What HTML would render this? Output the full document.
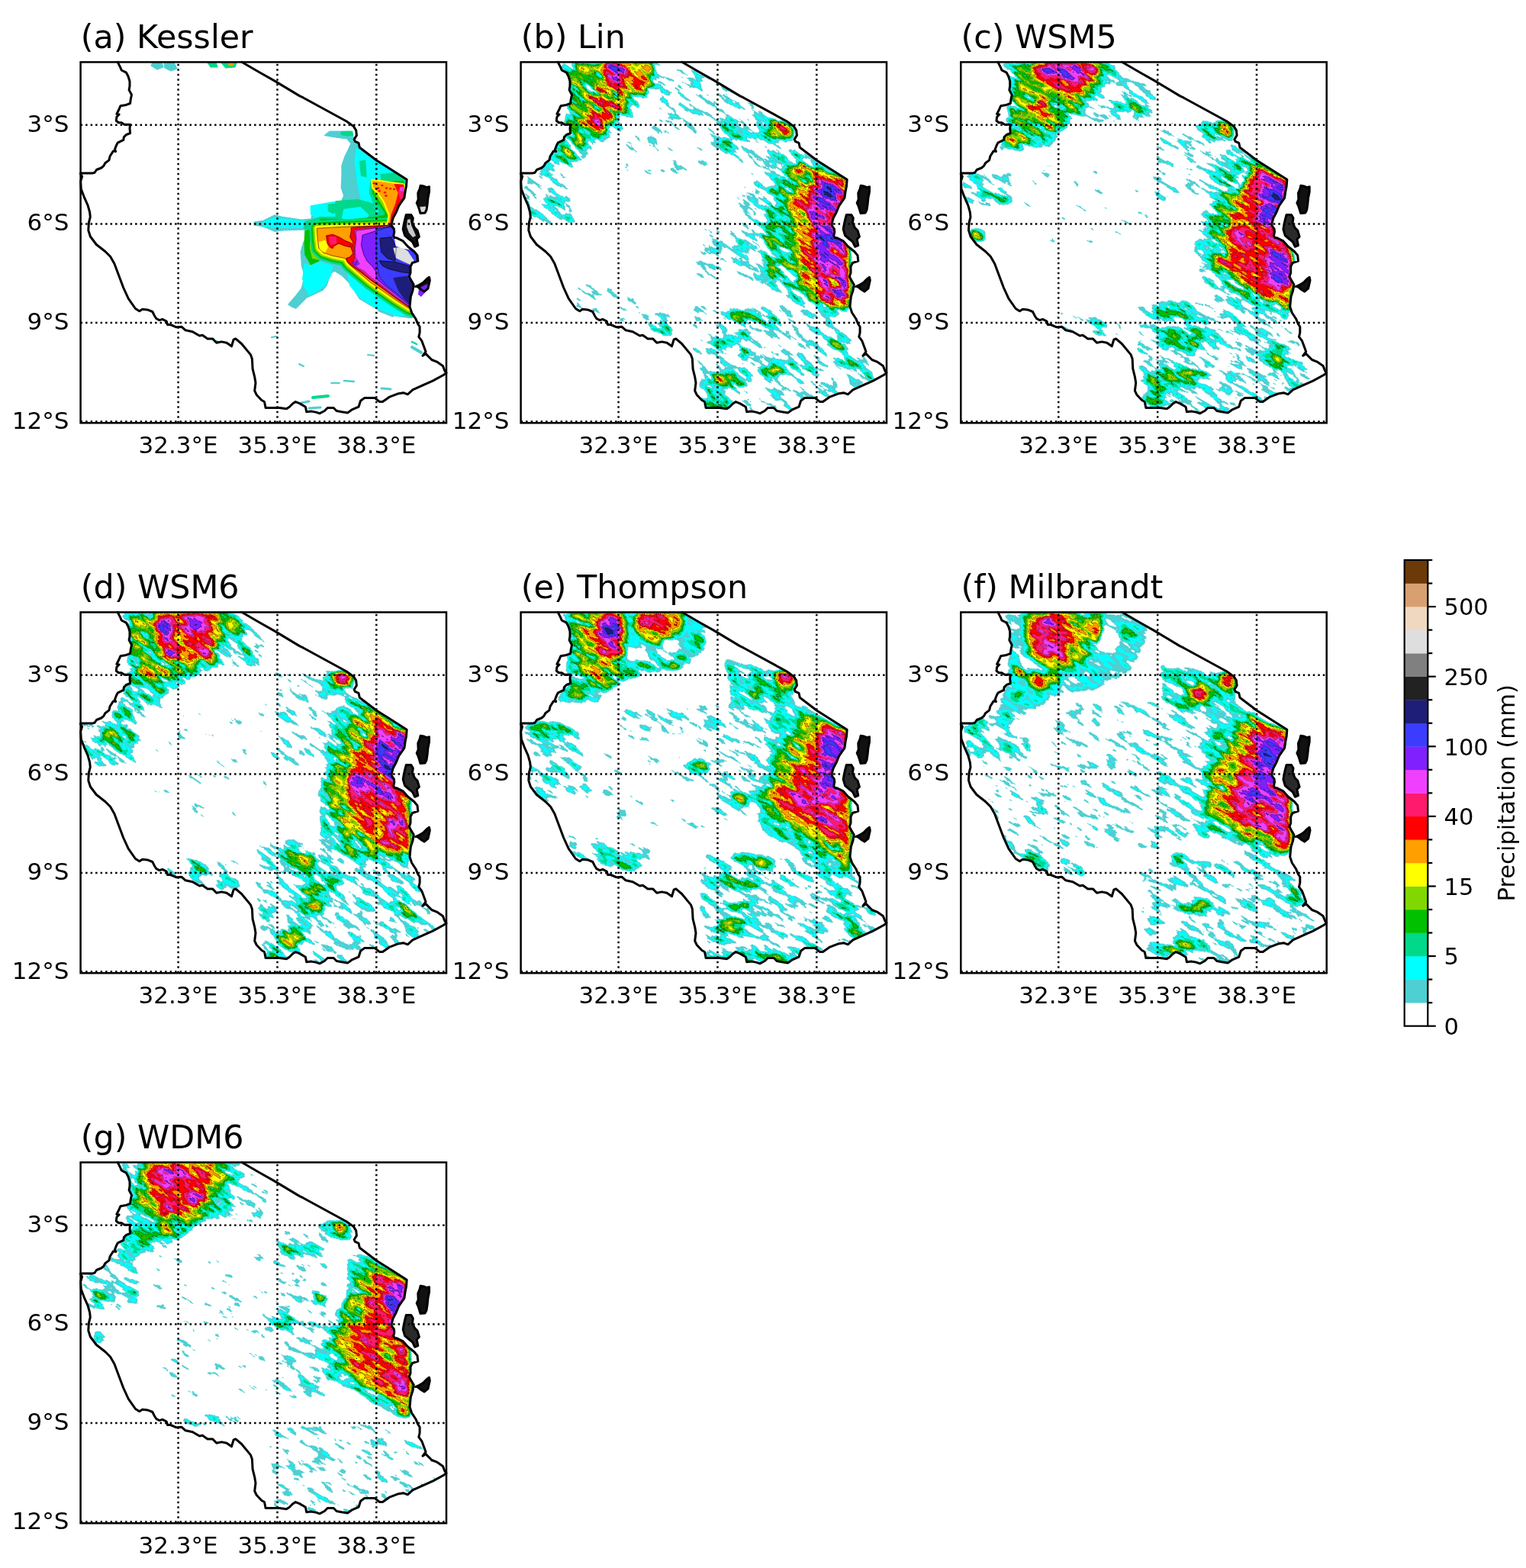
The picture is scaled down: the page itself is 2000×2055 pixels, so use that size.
<!DOCTYPE html><html><head><meta charset="utf-8"><title>Precipitation comparison</title>
<style>html,body{margin:0;padding:0;background:#fff;width:2000px;height:2055px;overflow:hidden}svg{display:block}</style></head><body>
<svg xmlns="http://www.w3.org/2000/svg" width="2000" height="2055" viewBox="0 0 2000 2055" font-family="DejaVu Sans, Liberation Sans, sans-serif">
<defs>
<clipPath id="land" clipPathUnits="userSpaceOnUse"><polygon points="154.2,81.3 158.0,88.9 159.2,92.0 165.5,95.2 168.1,100.2 170.0,106.5 170.0,112.8 169.1,117.9 172.5,124.2 171.2,130.5 170.6,135.5 165.5,137.4 158.0,138.7 155.5,144.3 152.9,149.4 156.1,150.0 152.9,153.2 152.3,158.2 155.5,160.7 159.2,160.7 163.0,163.2 170.6,163.2 170.0,168.3 170.6,174.6 165.5,176.5 162.4,179.6 161.8,183.4 154.2,187.2 152.3,191.0 150.4,196.0 151.7,198.5 148.5,197.9 144.1,204.8 142.9,209.9 137.8,213.7 135.9,217.4 132.8,220.0 126.5,222.5 124.0,226.3 121.4,226.9 105.6,226.9 105.6,228.0 107.6,231.3 105.7,237.6 106.3,247.7 110.1,257.8 115.1,269.1 117.6,278.0 118.3,284.3 116.4,291.8 115.8,301.9 118.4,310.0 126.3,320.5 138.1,329.7 144.6,336.3 149.9,345.5 161.7,377.0 168.3,391.4 177.5,404.5 182.7,407.8 186.7,405.2 193.2,405.9 199.8,408.5 202.4,413.7 205.0,417.7 209.0,419.6 212.9,418.3 218.2,421.0 219.5,425.5 223.4,425.5 231.3,428.8 237.9,428.2 243.1,432.8 252.3,434.7 261.5,440.0 265.4,439.3 272.0,443.9 278.6,443.9 283.8,449.2 290.4,447.9 297.0,449.2 303.5,453.8 306.1,445.2 308.8,443.9 316.6,450.5 328.5,464.9 330.4,470.2 331.1,483.3 333.7,493.8 335.0,501.7 333.7,512.2 336.3,517.5 342.9,524.5 346.5,526.5 347.9,533.2 348.0,534.5 357.1,534.5 366.3,534.5 375.5,535.8 379.4,533.2 383.3,529.3 387.3,526.6 392.5,528.6 400.4,533.2 401.7,539.8 408.3,539.1 414.8,540.4 418.8,541.8 425.3,538.5 429.3,534.5 437.2,534.5 441.1,538.5 447.7,539.8 455.5,541.1 460.8,537.2 470.0,533.2 472.6,525.3 477.9,521.4 491.0,521.4 497.6,526.6 501.5,526.6 510.7,520.1 521.2,516.1 529.1,514.8 534.3,516.8 540.9,510.9 555.3,504.3 567.2,499.1 581.6,491.2 585.0,488.6 582.9,486.0 580.3,479.4 572.4,474.1 565.8,471.5 558.0,463.6 554.0,466.2 558.0,461.0 556.6,457.1 552.7,446.6 548.8,441.3 550.1,436.0 550.1,428.2 547.5,424.2 544.8,417.7 539.6,409.8 537.0,401.9 538.3,388.8 540.9,380.9 542.2,373.0 538.8,367.4 536.3,362.5 538.0,357.6 538.0,349.4 540.4,344.5 547.8,342.1 547.0,334.7 542.9,329.8 534.7,323.3 528.2,315.9 520.0,311.8 517.3,311.4 515.7,309.3 516.8,304.0 516.3,299.8 513.6,296.2 513.1,293.5 515.2,285.7 519.4,277.8 522.6,269.9 526.2,264.6 529.9,259.4 531.0,251.5 532.5,243.6 533.1,235.8 533.1,235.2 493.6,210.2 471.3,193.2 470.0,187.3 465.4,185.3 464.1,182.7 467.4,177.4 466.7,170.9 463.4,165.6 454.2,159.0 397.8,128.2 392.5,125.6 359.7,105.9 340.0,94.7 316.8,81.3"/><polygon points="551.1,243.2 555.2,244.0 559.2,245.6 562.5,244.8 562.5,251.3 560.9,259.5 560.1,267.7 559.0,275.0 557.0,279.0 551.0,279.5 549.4,274.0 547.8,269.3 546.2,266.1 548.2,261.2 547.8,253.0 550.2,247.3"/><polygon points="532.3,281.6 538.8,281.6 541.3,285.7 540.4,292.2 543.7,298.8 547.0,302.0 549.4,310.2 546.2,313.5 547.8,321.7 543.7,323.3 540.4,316.7 536.3,313.5 530.6,308.6 528.2,300.4 529.0,295.5 530.6,288.1"/><polygon points="562.5,363.3 563.3,367.4 560.9,378.1 556.0,382.1 551.1,378.9 547.0,375.6 544.5,375.6 548.6,374.0 555.2,369.9 559.2,365.8"/></clipPath>
<g id="outline" fill="none" stroke="#000" stroke-width="3.0" stroke-linejoin="round" stroke-linecap="round"><polyline points="154.2,81.3 158.0,88.9 159.2,92.0 165.5,95.2 168.1,100.2 170.0,106.5 170.0,112.8 169.1,117.9 172.5,124.2 171.2,130.5 170.6,135.5 165.5,137.4 158.0,138.7 155.5,144.3 152.9,149.4 156.1,150.0 152.9,153.2 152.3,158.2 155.5,160.7 159.2,160.7 163.0,163.2 170.6,163.2 170.0,168.3 170.6,174.6 165.5,176.5 162.4,179.6 161.8,183.4 154.2,187.2 152.3,191.0 150.4,196.0 151.7,198.5 148.5,197.9 144.1,204.8 142.9,209.9 137.8,213.7 135.9,217.4 132.8,220.0 126.5,222.5 124.0,226.3 121.4,226.9 105.6,226.9"/><polyline points="105.6,228.0 107.6,231.3 105.7,237.6 106.3,247.7 110.1,257.8 115.1,269.1 117.6,278.0 118.3,284.3 116.4,291.8 115.8,301.9 118.4,310.0 126.3,320.5 138.1,329.7 144.6,336.3 149.9,345.5 161.7,377.0 168.3,391.4 177.5,404.5 182.7,407.8 186.7,405.2 193.2,405.9 199.8,408.5 202.4,413.7 205.0,417.7 209.0,419.6 212.9,418.3 218.2,421.0 219.5,425.5 223.4,425.5 231.3,428.8 237.9,428.2 243.1,432.8 252.3,434.7 261.5,440.0 265.4,439.3 272.0,443.9 278.6,443.9 283.8,449.2 290.4,447.9 297.0,449.2 303.5,453.8 306.1,445.2 308.8,443.9 316.6,450.5 328.5,464.9 330.4,470.2 331.1,483.3 333.7,493.8 335.0,501.7 333.7,512.2 336.3,517.5 342.9,524.5 346.5,526.5 347.9,533.2 348.0,534.5 357.1,534.5 366.3,534.5 375.5,535.8 379.4,533.2 383.3,529.3 387.3,526.6 392.5,528.6 400.4,533.2 401.7,539.8 408.3,539.1 414.8,540.4 418.8,541.8 425.3,538.5 429.3,534.5 437.2,534.5 441.1,538.5 447.7,539.8 455.5,541.1 460.8,537.2 470.0,533.2 472.6,525.3 477.9,521.4 491.0,521.4 497.6,526.6 501.5,526.6 510.7,520.1 521.2,516.1 529.1,514.8 534.3,516.8 540.9,510.9 555.3,504.3 567.2,499.1 581.6,491.2 585.0,488.6 582.9,486.0 580.3,479.4 572.4,474.1 565.8,471.5 558.0,463.6 554.0,466.2 558.0,461.0 556.6,457.1 552.7,446.6 548.8,441.3 550.1,436.0 550.1,428.2 547.5,424.2 544.8,417.7 539.6,409.8 537.0,401.9 538.3,388.8 540.9,380.9 542.2,373.0 538.8,367.4 536.3,362.5 538.0,357.6 538.0,349.4 540.4,344.5 547.8,342.1 547.0,334.7 542.9,329.8 534.7,323.3 528.2,315.9 520.0,311.8 517.3,311.4 515.7,309.3 516.8,304.0 516.3,299.8 513.6,296.2 513.1,293.5 515.2,285.7 519.4,277.8 522.6,269.9 526.2,264.6 529.9,259.4 531.0,251.5 532.5,243.6 533.1,235.8 533.1,235.2 493.6,210.2 471.3,193.2 470.0,187.3 465.4,185.3 464.1,182.7 467.4,177.4 466.7,170.9 463.4,165.6 454.2,159.0 397.8,128.2 392.5,125.6 359.7,105.9 340.0,94.7 316.8,81.3"/><polygon points="551.1,243.2 555.2,244.0 559.2,245.6 562.5,244.8 562.5,251.3 560.9,259.5 560.1,267.7 559.0,275.0 557.0,279.0 551.0,279.5 549.4,274.0 547.8,269.3 546.2,266.1 548.2,261.2 547.8,253.0 550.2,247.3"/><polygon points="532.3,281.6 538.8,281.6 541.3,285.7 540.4,292.2 543.7,298.8 547.0,302.0 549.4,310.2 546.2,313.5 547.8,321.7 543.7,323.3 540.4,316.7 536.3,313.5 530.6,308.6 528.2,300.4 529.0,295.5 530.6,288.1"/><polygon points="562.5,363.3 563.3,367.4 560.9,378.1 556.0,382.1 551.1,378.9 547.0,375.6 544.5,375.6 548.6,374.0 555.2,369.9 559.2,365.8"/></g>
<g id="grid" stroke="#000" stroke-width="2.5" stroke-dasharray="2.5 4.0"><line x1="233.6" y1="554.3" x2="233.6" y2="81.4"/><line x1="363.5" y1="554.3" x2="363.5" y2="81.4"/><line x1="493.3" y1="554.3" x2="493.3" y2="81.4"/><line x1="105.6" y1="163.8" x2="585.0" y2="163.8"/><line x1="105.6" y1="293.4" x2="585.0" y2="293.4"/><line x1="105.6" y1="422.9" x2="585.0" y2="422.9"/><line x1="105.6" y1="552.6" x2="585.0" y2="552.6"/></g>
</defs>
<g transform="translate(0,0)">
<g clip-path="url(#land)"><polygon points="425.3,177.4 431.9,172.2 458.2,172.2 463.4,180.0 470.0,187.0 500.0,205.0 540.0,232.0 545.0,300.0 560.0,350.0 545.0,415.0 537.9,416.7 519.0,414.2 496.3,406.6 483.7,399.1 471.1,391.5 458.4,371.4 448.4,361.3 438.3,355.0 433.2,358.7 428.2,373.9 423.2,380.2 401.7,390.3 392.9,399.1 387.9,404.1 381.6,401.6 377.8,399.1 386.6,389.0 395.4,377.7 399.2,361.3 395.4,348.7 394.2,329.8 397.9,317.1 408.0,308.3 397.9,300.8 370.2,302.0 360.1,303.3 345.0,297.0 333.0,295.0 333.0,291.0 345.0,289.4 360.1,281.9 370.2,284.4 395.4,288.2 408.0,286.9 409.3,276.8 415.6,270.5 433.2,265.5 447.0,264.5 450.7,256.6 447.2,245.9 448.0,230.0 447.9,217.3 452.0,205.0 457.2,194.4 460.0,188.0 455.0,182.0 440.0,180.0" fill="#4ecfd2" stroke="#4ecfd2" stroke-width="1.2" stroke-linejoin="round"/>
<polygon points="467.2,194.4 490.1,210.1 518.7,224.4 511.6,235.2 493.7,237.3 491.5,260.2 486.5,281.7 474.4,267.4 468.6,238.7 465.1,210.1" fill="#00ffff" stroke="#00ffff" stroke-width="1.2" stroke-linejoin="round"/>
<polygon points="345.0,290.7 360.1,285.6 382.8,288.2 408.0,290.7 410.5,297.0 382.8,298.2 360.1,298.2 345.0,297.0" fill="#00ffff" stroke="#00ffff" stroke-width="1.2" stroke-linejoin="round"/>
<polygon points="407.3,269.8 435.9,264.9 468.6,263.3 489.1,260.0 505.4,269.8 505.4,286.2 476.8,287.0 444.1,284.5 415.4,286.2 407.3,280.4" fill="#00ffff" stroke="#00ffff" stroke-width="1.2" stroke-linejoin="round"/>
<polygon points="397.9,351.2 420.6,343.6 435.8,348.7 433.2,361.3 425.7,373.9 415.6,381.4 405.5,386.5 397.9,373.9" fill="#00ffff" stroke="#00ffff" stroke-width="1.2" stroke-linejoin="round"/>
<polygon points="399.1,345.9 411.4,350.0 419.5,362.2 415.4,370.4 403.2,374.5 396.6,366.3" fill="#00ffff" stroke="#00ffff" stroke-width="1.2" stroke-linejoin="round"/>
<polygon points="455.9,358.7 477.4,377.7 502.6,392.8 527.8,405.4 534.1,411.7 521.5,414.2 496.3,406.6 471.1,389.0 458.5,373.9" fill="#00ffff" stroke="#00ffff" stroke-width="1.2" stroke-linejoin="round"/>
<polygon points="447.2,172.9 461.5,172.2 462.9,177.2 454.3,177.9 447.2,176.5" fill="#00d98a" stroke="#00d98a" stroke-width="1.2" stroke-linejoin="round"/>
<polygon points="430.2,268.2 452.3,265.7 453.9,274.7 435.9,279.6 430.2,276.4" fill="#00d98a" stroke="#00d98a" stroke-width="1.2" stroke-linejoin="round"/>
<polygon points="467.0,269.8 476.8,267.4 485.0,282.9 472.7,288.6" fill="#00d98a" stroke="#00d98a" stroke-width="1.2" stroke-linejoin="round"/>
<polygon points="471.5,211.5 478.7,210.1 480.1,231.6 473.6,230.2" fill="#00d98a" stroke="#00d98a" stroke-width="1.2" stroke-linejoin="round"/>
<polygon points="498.7,228.7 518.7,226.6 530.2,235.9 511.6,240.2 500.8,238.7" fill="#00d98a" stroke="#00d98a" stroke-width="1.2" stroke-linejoin="round"/>
<polygon points="399.9,291.1 419.5,284.5 452.3,284.5 476.8,286.2 489.1,280.4 509.5,274.7 514.4,295.2 476.8,298.4 435.9,300.9 407.3,302.5 398.3,299.3" fill="#00d98a" stroke="#00d98a" stroke-width="1.2" stroke-linejoin="round"/>
<polygon points="485.8,237.3 530.2,235.2 529.5,300.0 508.0,300.0 500.8,281.7 490.1,267.4 484.4,253.1" fill="#00d98a" stroke="#00d98a" stroke-width="1.2" stroke-linejoin="round"/>
<polygon points="440.0,263.8 468.6,261.6 490.1,267.4 497.3,300.0 440.0,300.0" fill="#00d98a" stroke="#00d98a" stroke-width="1.2" stroke-linejoin="round"/>
<polygon points="450.7,274.5 472.2,271.7 482.9,281.7 475.8,292.4 457.9,292.4 448.6,285.3" fill="#00ffff" stroke="#00ffff" stroke-width="1.2" stroke-linejoin="round"/>
<polygon points="419.5,287.0 460.4,287.8 493.1,284.5 511.1,280.4 512.8,295.2 468.6,298.4 423.6,299.3" fill="#00c000" stroke="#00c000" stroke-width="1.2" stroke-linejoin="round"/>
<polygon points="399.9,302.5 415.4,299.3 419.5,309.1 417.9,341.8 407.3,346.7 399.9,333.6 399.1,317.3" fill="#00c000" stroke="#00c000" stroke-width="1.2" stroke-linejoin="round"/>
<polygon points="487.2,238.7 528.8,237.3 528.0,300.0 510.2,300.0 504.4,278.1 494.4,263.8 488.7,253.1" fill="#00c000" stroke="#00c000" stroke-width="1.2" stroke-linejoin="round"/>
<polygon points="407.3,305.8 417.9,300.9 421.2,317.3 419.5,340.2 409.7,338.5 406.5,325.4" fill="#80d800" stroke="#80d800" stroke-width="1.2" stroke-linejoin="round"/>
<polygon points="435.9,294.4 509.5,291.1 511.1,296.0 444.1,298.4" fill="#80d800" stroke="#80d800" stroke-width="1.2" stroke-linejoin="round"/>
<polygon points="488.7,238.0 528.8,241.6 528.0,296.0 513.0,298.9 508.7,281.7 503.0,271.7 491.5,253.1" fill="#80d800" stroke="#80d800" stroke-width="1.2" stroke-linejoin="round"/>
<polygon points="414.9,289.8 411.3,290.7 408.4,292.9 406.5,296.1 406.0,299.8 406.8,313.7 406.8,314.4 408.5,326.7 409.4,329.6 411.2,332.1 416.9,337.9 420.6,340.2 432.9,344.3 434.0,344.6 446.5,347.1 449.3,351.1 451.0,353.1 462.4,362.9 462.5,362.9 478.8,376.8 479.5,377.4 495.9,388.8 512.2,400.3 512.6,400.5 530.6,412.0 532.9,413.0 543.5,416.3 547.0,416.7 550.4,415.8 553.3,413.7 555.1,410.7 555.8,407.2 555.8,333.6 554.8,329.4 542.5,304.8 540.4,302.0 537.3,300.1 522.2,294.7 519.0,289.9 516.8,287.5 513.9,286.1 510.7,285.7 492.8,286.5 464.2,287.3 464.1,287.3 443.7,288.1 443.5,288.1 414.9,289.8" fill="#00d98a" stroke="#00d98a" stroke-width="1.2" stroke-linejoin="round"/>
<polygon points="415.0,292.3 412.4,293.0 410.2,294.6 408.8,297.0 408.5,299.7 409.3,313.6 409.3,314.1 411.0,326.4 411.6,328.5 413.0,330.4 418.7,336.1 421.4,337.8 433.7,341.9 434.5,342.1 448.0,344.8 451.3,349.8 452.6,351.2 464.1,361.0 464.1,361.0 480.4,374.9 481.0,375.3 497.3,386.8 513.7,398.2 513.9,398.4 531.9,409.8 533.6,410.6 544.2,413.9 546.8,414.2 549.3,413.5 551.4,412.0 552.8,409.8 553.3,407.2 553.3,333.6 552.6,330.5 540.3,305.9 538.7,303.8 536.4,302.5 520.6,296.7 517.0,291.3 515.3,289.6 513.2,288.5 510.8,288.2 492.9,289.0 464.3,289.8 464.2,289.8 443.8,290.6 443.7,290.6 415.0,292.3" fill="#00c000" stroke="#00c000" stroke-width="1.2" stroke-linejoin="round"/>
<polygon points="415.2,294.5 413.4,294.9 411.9,296.1 410.9,297.7 410.7,299.5 411.5,313.4 411.5,313.8 413.1,326.1 413.6,327.6 414.5,328.8 420.2,334.5 422.1,335.7 434.4,339.8 435.0,340.0 449.4,342.8 453.2,348.5 454.0,349.5 465.5,359.3 465.5,359.3 481.9,373.3 482.2,373.5 498.6,385.0 514.9,396.4 515.1,396.5 533.1,408.0 534.3,408.5 544.9,411.8 546.7,412.0 548.4,411.5 549.8,410.5 550.8,409.0 551.1,407.2 551.1,333.6 550.6,331.5 538.3,306.9 537.2,305.5 535.7,304.6 519.2,298.6 515.1,292.5 514.0,291.3 512.5,290.6 510.9,290.4 493.0,291.2 464.4,292.0 464.3,292.0 443.9,292.8 443.8,292.8 415.2,294.5" fill="#80d800" stroke="#80d800" stroke-width="1.2" stroke-linejoin="round"/>
<polygon points="415.3,296.7 414.3,296.9 413.5,297.5 413.0,298.4 412.9,299.4 413.7,313.3 413.7,313.5 415.3,325.8 415.6,326.6 416.1,327.3 421.8,333.0 422.8,333.6 435.1,337.7 435.4,337.8 450.7,340.9 455.0,347.3 455.5,347.8 466.9,357.7 466.9,357.7 483.3,371.6 483.5,371.7 499.8,383.2 516.2,394.6 516.3,394.7 534.3,406.1 534.9,406.4 545.5,409.7 546.5,409.8 547.4,409.6 548.2,409.0 548.7,408.2 548.9,407.2 548.9,333.6 548.6,332.4 536.4,307.9 535.8,307.1 534.9,306.6 517.7,300.4 513.3,293.7 512.7,293.1 511.9,292.7 511.0,292.6 493.0,293.4 464.4,294.2 464.4,294.2 444.0,295.0 443.9,295.0 415.3,296.7" fill="#ffff00" stroke="#ffff00" stroke-width="1.2" stroke-linejoin="round"/>
<polygon points="415.4,299.3 416.3,313.2 417.9,325.4 423.6,331.2 435.9,335.2 452.3,338.5 457.2,345.9 468.6,355.7 485.0,369.6 501.3,381.0 517.7,392.5 535.7,403.9 546.3,407.2 546.3,333.6 534.0,309.1 516.0,302.5 511.1,295.2 493.1,296.0 464.5,296.8 444.1,297.6 415.4,299.3" fill="#ff9f00" stroke="#ff9f00" stroke-width="1.2" stroke-linejoin="round"/>
<polygon points="417.9,317.3 426.1,315.6 429.4,323.8 426.1,330.3 419.5,328.7" fill="#ffff00" stroke="#ffff00" stroke-width="1.2" stroke-linejoin="round"/>
<polygon points="489.0,235.1 488.2,235.2 487.4,235.5 486.8,236.1 486.5,236.8 486.5,237.7 487.9,246.3 488.2,246.9 488.6,247.5 495.6,254.5 502.5,264.8 509.3,281.9 505.8,299.6 505.9,300.6 506.3,301.4 507.1,302.0 508.0,302.2 511.6,302.2 512.5,302.0 513.3,301.4 513.7,300.5 517.2,284.1 524.0,275.9 524.2,275.7 530.6,264.9 531.0,263.7 530.2,243.0 530.1,242.2 529.7,241.6 529.1,241.1 528.3,240.9 522.6,240.1 489.0,235.1" fill="#ffff00" stroke="#ffff00" stroke-width="1.2" stroke-linejoin="round"/>
<polygon points="488.7,237.3 490.1,245.9 497.3,253.1 504.4,263.8 511.6,281.7 508.0,300.0 511.6,300.0 515.2,283.1 522.3,274.5 528.8,263.8 528.0,243.0 522.3,242.3 488.7,237.3" fill="#ff9f00" stroke="#ff9f00" stroke-width="1.2" stroke-linejoin="round"/>
<polygon points="517.3,241.6 528.8,242.3 529.1,263.8 522.3,276.0 515.9,286.0 512.3,300.0 510.9,300.0 513.0,281.7 518.7,267.4 522.3,253.1" fill="#ff0000" stroke="#ff0000" stroke-width="1.2" stroke-linejoin="round"/>
<polygon points="522.3,249.5 528.0,245.9 528.8,261.6 524.5,260.2" fill="#ff1a6e" stroke="#ff1a6e" stroke-width="1.2" stroke-linejoin="round"/>
<polygon points="524.5,245.9 528.0,245.2 527.7,250.2 524.8,249.5" fill="#f040ff" stroke="#f040ff" stroke-width="1.2" stroke-linejoin="round"/>
<ellipse cx="490.1" cy="240.2" rx="1.6" ry="1.3" transform="rotate(0 490.1 240.2)" fill="#ff0000"/>
<ellipse cx="495.8" cy="246.6" rx="1.6" ry="1.3" transform="rotate(0 495.8 246.6)" fill="#ff0000"/>
<ellipse cx="500.8" cy="243.0" rx="1.6" ry="1.3" transform="rotate(0 500.8 243.0)" fill="#ff0000"/>
<ellipse cx="506.6" cy="246.6" rx="1.6" ry="1.3" transform="rotate(0 506.6 246.6)" fill="#ff0000"/>
<ellipse cx="511.6" cy="247.3" rx="1.6" ry="1.3" transform="rotate(0 511.6 247.3)" fill="#ff0000"/>
<ellipse cx="516.6" cy="248.0" rx="1.6" ry="1.3" transform="rotate(0 516.6 248.0)" fill="#ff0000"/>
<ellipse cx="504.4" cy="252.3" rx="1.6" ry="1.3" transform="rotate(0 504.4 252.3)" fill="#ff0000"/>
<ellipse cx="505.9" cy="256.6" rx="1.6" ry="1.3" transform="rotate(0 505.9 256.6)" fill="#ff0000"/>
<ellipse cx="497.3" cy="250.2" rx="1.6" ry="1.3" transform="rotate(0 497.3 250.2)" fill="#ff0000"/>
<polygon points="460.4,298.4 511.1,295.2 546.3,309.1 546.3,407.2 535.7,402.3 517.7,390.0 501.3,377.8 485.0,366.3 472.7,356.5 462.1,349.1 455.5,343.4 453.9,338.5 458.8,336.9 462.9,332.0 460.4,325.4 462.9,317.3 458.8,310.7 460.4,302.5" fill="#ff0000" stroke="#ff0000" stroke-width="1.2" stroke-linejoin="round"/>
<polygon points="427.7,309.1 435.9,307.4 444.1,310.7 452.3,315.6 460.4,318.9 459.6,323.8 452.3,322.2 444.1,318.9 437.5,322.2 435.9,325.4 432.6,323.8 429.4,318.9" fill="#ff0000" stroke="#ff0000" stroke-width="1.2" stroke-linejoin="round"/>
<polygon points="431.8,310.7 440.0,310.7 440.8,318.9 433.4,320.5" fill="#ff1a6e" stroke="#ff1a6e" stroke-width="1.2" stroke-linejoin="round"/>
<polygon points="463.7,300.9 511.1,296.8 546.3,309.1 546.3,406.4 535.7,401.5 517.7,388.8 501.3,376.1 485.0,365.1 473.5,355.7 464.5,349.1 462.1,345.1 464.5,338.5 464.5,325.4 466.2,313.2" fill="#ff1a6e" stroke="#ff1a6e" stroke-width="1.2" stroke-linejoin="round"/>
<polygon points="466.2,302.5 511.1,296.0 546.3,309.1 546.3,405.6 535.7,400.7 517.7,387.6 501.3,374.5 486.6,363.9 476.8,354.9 468.6,350.8 465.3,346.7 468.6,341.0 466.2,337.7 465.3,325.4 467.0,313.2" fill="#f040ff" stroke="#f040ff" stroke-width="1.2" stroke-linejoin="round"/>
<polygon points="475.2,308.3 511.1,296.8 546.3,309.1 546.3,403.9 535.7,399.0 517.7,385.1 501.3,372.0 493.1,364.7 493.1,356.5 489.1,350.0 480.9,341.8 476.8,333.6 473.5,321.3" fill="#8020ff" stroke="#8020ff" stroke-width="1.2" stroke-linejoin="round"/>
<polygon points="462.1,343.4 468.6,341.8 471.1,345.9 465.3,348.3" fill="#8020ff" stroke="#8020ff" stroke-width="1.2" stroke-linejoin="round"/>
<polygon points="493.1,300.1 512.0,297.6 546.3,309.1 546.3,402.3 535.7,397.4 517.7,382.7 505.4,372.9 497.2,362.2 494.8,350.0 493.1,333.6 493.1,317.3" fill="#3c3cff" stroke="#3c3cff" stroke-width="1.2" stroke-linejoin="round"/>
<polygon points="498.1,312.3 512.8,310.7 519.3,325.4 517.7,341.8 507.9,338.5 499.7,330.3" fill="#1e1e78" stroke="#1e1e78" stroke-width="1.2" stroke-linejoin="round"/>
<polygon points="497.2,341.8 517.7,343.4 535.7,348.3 538.9,358.1 525.9,356.5 509.5,352.4 501.3,348.3" fill="#1e1e78" stroke="#1e1e78" stroke-width="1.2" stroke-linejoin="round"/>
<polygon points="516.0,364.7 534.0,362.2 538.9,399.0 529.9,390.9 522.6,381.0" fill="#1e1e78" stroke="#1e1e78" stroke-width="1.2" stroke-linejoin="round"/>
<polygon points="535.7,366.3 546.3,366.3 546.3,403.9 538.9,399.0" fill="#1e1e78" stroke="#1e1e78" stroke-width="1.2" stroke-linejoin="round"/>
<polygon points="516.0,325.4 525.9,324.6 534.0,329.5 542.2,341.8 538.9,346.7 527.5,341.8 519.3,337.7" fill="#dedede" stroke="#dedede" stroke-width="1.2" stroke-linejoin="round"/>
<polygon points="517.7,313.2 534.0,317.3 540.6,327.1 529.9,325.4 519.3,322.2" fill="#ffffff" stroke="#ffffff" stroke-width="1.2" stroke-linejoin="round"/>
<polygon points="200.0,82.0 212.0,82.0 214.0,88.0 206.0,91.0 198.0,86.0" fill="#4ecfd2" stroke="#4ecfd2" stroke-width="1.2" stroke-linejoin="round"/>
<polygon points="215.0,83.0 228.0,82.0 232.0,90.0 224.0,93.0 216.0,89.0" fill="#4ecfd2" stroke="#4ecfd2" stroke-width="1.2" stroke-linejoin="round"/>
<polygon points="272.0,82.0 283.0,82.0 285.0,88.0 276.0,88.0" fill="#00d98a" stroke="#00d98a" stroke-width="1.2" stroke-linejoin="round"/>
<polygon points="290.0,82.0 310.0,82.0 308.0,88.0 296.0,89.0" fill="#00d98a" stroke="#00d98a" stroke-width="1.2" stroke-linejoin="round"/>
<polygon points="300.0,82.0 306.0,82.0 305.0,86.0 300.0,86.0" fill="#ff9f00" stroke="#ff9f00" stroke-width="1.2" stroke-linejoin="round"/>
<polygon points="213.0,430.0 222.0,428.0 226.0,440.0 222.0,448.0 214.0,445.0" fill="#4ecfd2" stroke="#4ecfd2" stroke-width="1.2" stroke-linejoin="round"/>
<polygon points="280.0,446.0 300.0,450.0 298.0,455.0 282.0,452.0" fill="#00d98a" stroke="#00d98a" stroke-width="1.2" stroke-linejoin="round"/>
<line x1="480.0" y1="541.0" x2="500.0" y2="537.0" stroke="#4ecfd2" stroke-width="3" stroke-linecap="round"/>
<line x1="410.0" y1="521.0" x2="430.0" y2="519.0" stroke="#00d98a" stroke-width="4" stroke-linecap="round"/>
<line x1="395.0" y1="528.0" x2="405.0" y2="526.0" stroke="#4ecfd2" stroke-width="3" stroke-linecap="round"/>
<line x1="405.0" y1="535.0" x2="420.0" y2="534.0" stroke="#4ecfd2" stroke-width="3" stroke-linecap="round"/>
<line x1="440.0" y1="540.0" x2="460.0" y2="542.0" stroke="#4ecfd2" stroke-width="2.5" stroke-linecap="round"/>
<line x1="500.0" y1="509.0" x2="512.0" y2="510.0" stroke="#4ecfd2" stroke-width="3" stroke-linecap="round"/>
<line x1="540.0" y1="455.0" x2="552.0" y2="462.0" stroke="#4ecfd2" stroke-width="4" stroke-linecap="round"/>
<line x1="540.0" y1="448.0" x2="546.0" y2="451.0" stroke="#00d98a" stroke-width="2.5" stroke-linecap="round"/>
<line x1="482.0" y1="465.0" x2="490.0" y2="466.0" stroke="#4ecfd2" stroke-width="2" stroke-linecap="round"/>
<line x1="356.0" y1="442.0" x2="362.0" y2="441.0" stroke="#4ecfd2" stroke-width="2" stroke-linecap="round"/>
<line x1="392.0" y1="477.0" x2="398.0" y2="480.0" stroke="#4ecfd2" stroke-width="2" stroke-linecap="round"/>
<line x1="434.0" y1="502.0" x2="445.0" y2="502.0" stroke="#4ecfd2" stroke-width="2" stroke-linecap="round"/>
<line x1="451.0" y1="499.0" x2="464.0" y2="500.0" stroke="#4ecfd2" stroke-width="2.5" stroke-linecap="round"/>
<line x1="534.0" y1="542.0" x2="548.0" y2="540.0" stroke="#4ecfd2" stroke-width="2" stroke-linecap="round"/>
<line x1="497.0" y1="407.0" x2="515.0" y2="414.0" stroke="#4ecfd2" stroke-width="3" stroke-linecap="round"/>
<polygon points="415.4,299.3 444.1,297.6 464.5,296.8 493.1,296.0 511.1,295.2 516.0,302.5 534.0,309.1 546.3,333.6 546.3,407.2 535.7,403.9 517.7,392.5 501.3,381.0 485.0,369.6 468.6,355.7 457.2,345.9 452.3,338.5 435.9,335.2 423.6,331.2 417.9,325.4 416.3,313.2" fill="none" stroke="#000" stroke-opacity="0.5" stroke-width="0.9" stroke-linejoin="round"/>
<polygon points="460.4,298.4 511.1,295.2 546.3,309.1 546.3,407.2 535.7,402.3 517.7,390.0 501.3,377.8 485.0,366.3 472.7,356.5 462.1,349.1 455.5,343.4 453.9,338.5 458.8,336.9 462.9,332.0 460.4,325.4 462.9,317.3 458.8,310.7 460.4,302.5" fill="none" stroke="#000" stroke-opacity="0.5" stroke-width="0.9" stroke-linejoin="round"/>
<polygon points="427.7,309.1 435.9,307.4 444.1,310.7 452.3,315.6 460.4,318.9 459.6,323.8 452.3,322.2 444.1,318.9 437.5,322.2 435.9,325.4 432.6,323.8 429.4,318.9" fill="none" stroke="#000" stroke-opacity="0.5" stroke-width="0.9" stroke-linejoin="round"/>
<polygon points="463.7,300.9 511.1,296.8 546.3,309.1 546.3,406.4 535.7,401.5 517.7,388.8 501.3,376.1 485.0,365.1 473.5,355.7 464.5,349.1 462.1,345.1 464.5,338.5 464.5,325.4 466.2,313.2" fill="none" stroke="#000" stroke-opacity="0.5" stroke-width="0.9" stroke-linejoin="round"/>
<polygon points="466.2,302.5 511.1,296.0 546.3,309.1 546.3,405.6 535.7,400.7 517.7,387.6 501.3,374.5 486.6,363.9 476.8,354.9 468.6,350.8 465.3,346.7 468.6,341.0 466.2,337.7 465.3,325.4 467.0,313.2" fill="none" stroke="#000" stroke-opacity="0.5" stroke-width="0.9" stroke-linejoin="round"/>
<polygon points="475.2,308.3 511.1,296.8 546.3,309.1 546.3,403.9 535.7,399.0 517.7,385.1 501.3,372.0 493.1,364.7 493.1,356.5 489.1,350.0 480.9,341.8 476.8,333.6 473.5,321.3" fill="none" stroke="#000" stroke-opacity="0.5" stroke-width="0.9" stroke-linejoin="round"/>
<polygon points="493.1,300.1 512.0,297.6 546.3,309.1 546.3,402.3 535.7,397.4 517.7,382.7 505.4,372.9 497.2,362.2 494.8,350.0 493.1,333.6 493.1,317.3" fill="none" stroke="#000" stroke-opacity="0.5" stroke-width="0.9" stroke-linejoin="round"/>
<polygon points="498.1,312.3 512.8,310.7 519.3,325.4 517.7,341.8 507.9,338.5 499.7,330.3" fill="none" stroke="#000" stroke-opacity="0.5" stroke-width="0.9" stroke-linejoin="round"/>
<polygon points="497.2,341.8 517.7,343.4 535.7,348.3 538.9,358.1 525.9,356.5 509.5,352.4 501.3,348.3" fill="none" stroke="#000" stroke-opacity="0.5" stroke-width="0.9" stroke-linejoin="round"/></g>
<polygon points="551.1,243.2 555.2,244.0 559.2,245.6 562.5,244.8 562.5,251.3 560.9,259.5 560.1,267.7 559.0,275.0 557.0,279.0 551.0,279.5 549.4,274.0 547.8,269.3 546.2,266.1 548.2,261.2 547.8,253.0 550.2,247.3" fill="#111"/><polygon points="549.4,271 559,270 558,279 551,279.5" fill="#d8d8d8" stroke="#333" stroke-width="1"/><polygon points="532.3,281.6 538.8,281.6 541.3,285.7 540.4,292.2 543.7,298.8 547.0,302.0 549.4,310.2 546.2,313.5 547.8,321.7 543.7,323.3 540.4,316.7 536.3,313.5 530.6,308.6 528.2,300.4 529.0,295.5 530.6,288.1" fill="#111"/><polygon points="534,288 537.5,287 539,295 542,302 545,309 541,311 536,305 533,297" fill="#c8c8cc"/><polygon points="562.5,363.3 563.3,367.4 560.9,378.1 556.0,382.1 551.1,378.9 547.0,375.6 544.5,375.6 548.6,374.0 555.2,369.9 559.2,365.8" fill="#111"/><polygon points="549,378 556,374 561,372 560,380 552,389 548,386" fill="#8020ff"/>
<use href="#grid"/>
<use href="#outline"/>
<rect x="105.6" y="81.4" width="479.4" height="472.9" fill="none" stroke="#000" stroke-width="2.5"/>
<text x="105.8" y="62.9" font-size="42.8">(a) Kessler</text>
<text x="90.4" y="172.7" font-size="31" text-anchor="end">3°S</text>
<text x="90.4" y="302.3" font-size="31" text-anchor="end">6°S</text>
<text x="90.4" y="431.8" font-size="31" text-anchor="end">9°S</text>
<text x="90.4" y="561.5" font-size="31" text-anchor="end">12°S</text>
<text x="233.6" y="593.7" font-size="31" text-anchor="middle">32.3°E</text>
<text x="363.5" y="593.7" font-size="31" text-anchor="middle">35.3°E</text>
<text x="493.3" y="593.7" font-size="31" text-anchor="middle">38.3°E</text>
</g>
<g transform="translate(577.0,0)">
<g clip-path="url(#land)"><filter id="fx1" filterUnits="userSpaceOnUse" x="-400" y="-400" width="1600" height="1600" color-interpolation-filters="sRGB"><feGaussianBlur in="SourceGraphic" stdDeviation="4" result="B"/><feColorMatrix in="B" type="matrix" values="1 0 0 0 0 1 0 0 0 0 1 0 0 0 0 0 0 0 0 1" result="F"/><feColorMatrix in="B" type="matrix" values="0 1 0 0 0 0 1 0 0 0 0 1 0 0 0 0 0 0 0 1" result="A"/><feTurbulence type="fractalNoise" baseFrequency="0.04 0.12" numOctaves="3" seed="7" result="N"/><feColorMatrix in="N" type="matrix" values="1 0 0 0 0 1 0 0 0 0 1 0 0 0 0 0 0 0 0 1" result="N1"/><feComposite in="A" in2="N1" operator="arithmetic" k1="1" k2="-0.5" k3="0" k4="0.5" result="M"/><feComposite in="F" in2="M" operator="arithmetic" k1="2.4" k2="-0.2" k3="0" k4="0" result="V"/><feComponentTransfer in="V" result="C"><feFuncR type="discrete" tableValues="1 1 1 1 1 1 1 1 1 1 1 1 1 1 1 1 1 1 1 1 1 1 1 1 1 0.306 0.306 0.306 0.306 0.306 0.306 0 0 0 0 0 0 0 0 0 0 0 0 0 0 0 0 0 0 0 0 0 0 0.502 0.502 0.502 0.502 0.502 0.502 0.502 0.502 0.502 0.502 1 1 1 1 1 1 1 1 1 1 1 1 1 1 1 1 1 1 1 1 1 1 1 1 1 1 1 1 1 1 1 1 1 1 1 1 1 1 1 1 1 1 1 1 1 1 1 1 1 1 1 1 1 1 1 1 1 1 1 1 1 1 1 1 1 1 1 1 1 0.941 0.941 0.941 0.941 0.941 0.941 0.941 0.941 0.941 0.941 0.941 0.941 0.941 0.941 0.941 0.941 0.941 0.941 0.941 0.941 0.941 0.941 0.941 0.941 0.941 0.941 0.502 0.502 0.502 0.502 0.502 0.502 0.502 0.502 0.502 0.502 0.502 0.502 0.502 0.502 0.502 0.502 0.502 0.502 0.502 0.502 0.502 0.502 0.502 0.502 0.502 0.502 0.502 0.502 0.502 0.502 0.502 0.235 0.235 0.235 0.235 0.235 0.235 0.235 0.235 0.235 0.235 0.235 0.235 0.235 0.235 0.235 0.235 0.235 0.235 0.235 0.235 0.235 0.235 0.235 0.235 0.235 0.235 0.235 0.235 0.235 0.235 0.235 0.235 0.235 0.235 0.235 0.235 0.235 0.235 0.118 0.118 0.118 0.118 0.118 0.118 0.118 0.118 0.118 0.118 0.118 0.118 0.118 0.118 0.118 0.118 0.118 0.118 0.118 0.118 0.118 0.118 0.118 0.118 0.118 0.118 0.118 0.118"/><feFuncG type="discrete" tableValues="1 1 1 1 1 1 1 1 1 1 1 1 1 1 1 1 1 1 1 1 1 1 1 1 1 0.812 0.812 0.812 0.812 0.812 0.812 1 1 1 1 1 1 0.851 0.851 0.851 0.851 0.851 0.851 0.851 0.753 0.753 0.753 0.753 0.753 0.753 0.753 0.753 0.753 0.847 0.847 0.847 0.847 0.847 0.847 0.847 0.847 0.847 0.847 1 1 1 1 1 1 1 1 1 1 1 1 1 0.624 0.624 0.624 0.624 0.624 0.624 0.624 0.624 0.624 0.624 0.624 0.624 0.624 0.624 0.624 0 0 0 0 0 0 0 0 0 0 0 0 0 0 0 0 0 0 0 0.102 0.102 0.102 0.102 0.102 0.102 0.102 0.102 0.102 0.102 0.102 0.102 0.102 0.102 0.102 0.102 0.102 0.102 0.102 0.102 0.102 0.102 0.251 0.251 0.251 0.251 0.251 0.251 0.251 0.251 0.251 0.251 0.251 0.251 0.251 0.251 0.251 0.251 0.251 0.251 0.251 0.251 0.251 0.251 0.251 0.251 0.251 0.251 0.125 0.125 0.125 0.125 0.125 0.125 0.125 0.125 0.125 0.125 0.125 0.125 0.125 0.125 0.125 0.125 0.125 0.125 0.125 0.125 0.125 0.125 0.125 0.125 0.125 0.125 0.125 0.125 0.125 0.125 0.125 0.235 0.235 0.235 0.235 0.235 0.235 0.235 0.235 0.235 0.235 0.235 0.235 0.235 0.235 0.235 0.235 0.235 0.235 0.235 0.235 0.235 0.235 0.235 0.235 0.235 0.235 0.235 0.235 0.235 0.235 0.235 0.235 0.235 0.235 0.235 0.235 0.235 0.235 0.118 0.118 0.118 0.118 0.118 0.118 0.118 0.118 0.118 0.118 0.118 0.118 0.118 0.118 0.118 0.118 0.118 0.118 0.118 0.118 0.118 0.118 0.118 0.118 0.118 0.118 0.118 0.118"/><feFuncB type="discrete" tableValues="1 1 1 1 1 1 1 1 1 1 1 1 1 1 1 1 1 1 1 1 1 1 1 1 1 0.824 0.824 0.824 0.824 0.824 0.824 1 1 1 1 1 1 0.541 0.541 0.541 0.541 0.541 0.541 0.541 0 0 0 0 0 0 0 0 0 0 0 0 0 0 0 0 0 0 0 0 0 0 0 0 0 0 0 0 0 0 0 0 0 0 0 0 0 0 0 0 0 0 0 0 0 0 0 0 0 0 0 0 0 0 0 0 0 0 0 0 0 0 0 0 0 0 0.431 0.431 0.431 0.431 0.431 0.431 0.431 0.431 0.431 0.431 0.431 0.431 0.431 0.431 0.431 0.431 0.431 0.431 0.431 0.431 0.431 0.431 1 1 1 1 1 1 1 1 1 1 1 1 1 1 1 1 1 1 1 1 1 1 1 1 1 1 1 1 1 1 1 1 1 1 1 1 1 1 1 1 1 1 1 1 1 1 1 1 1 1 1 1 1 1 1 1 1 1 1 1 1 1 1 1 1 1 1 1 1 1 1 1 1 1 1 1 1 1 1 1 1 1 1 1 1 1 1 1 1 1 1 1 1 1 1 0.471 0.471 0.471 0.471 0.471 0.471 0.471 0.471 0.471 0.471 0.471 0.471 0.471 0.471 0.471 0.471 0.471 0.471 0.471 0.471 0.471 0.471 0.471 0.471 0.471 0.471 0.471 0.471"/><feFuncA type="linear" slope="0" intercept="1"/></feComponentTransfer><feComponentTransfer in="V" result="Q"><feFuncR type="discrete" tableValues="0.000 0.000 0.000 0.000 0.000 0.000 0.000 0.000 0.000 0.000 0.000 0.000 0.000 0.000 0.000 0.000 0.000 0.000 0.000 0.000 0.000 0.000 0.000 0.000 0.000 0.000 0.000 0.000 0.000 0.000 0.000 0.000 0.000 0.000 0.000 0.000 0.000 0.000 0.000 0.000 0.000 0.000 0.000 0.000 0.050 0.050 0.050 0.050 0.050 0.050 0.050 0.050 0.050 0.100 0.100 0.100 0.100 0.100 0.100 0.100 0.100 0.100 0.100 0.150 0.150 0.150 0.150 0.150 0.150 0.150 0.150 0.150 0.150 0.150 0.150 0.150 0.200 0.200 0.200 0.200 0.200 0.200 0.200 0.200 0.200 0.200 0.200 0.200 0.200 0.200 0.200 0.250 0.250 0.250 0.250 0.250 0.250 0.250 0.250 0.250 0.250 0.250 0.250 0.250 0.250 0.250 0.250 0.250 0.250 0.250 0.300 0.300 0.300 0.300 0.300 0.300 0.300 0.300 0.300 0.300 0.300 0.300 0.300 0.300 0.300 0.300 0.300 0.300 0.300 0.300 0.300 0.300 0.350 0.350 0.350 0.350 0.350 0.350 0.350 0.350 0.350 0.350 0.350 0.350 0.350 0.350 0.350 0.350 0.350 0.350 0.350 0.350 0.350 0.350 0.350 0.350 0.350 0.350 0.400 0.400 0.400 0.400 0.400 0.400 0.400 0.400 0.400 0.400 0.400 0.400 0.400 0.400 0.400 0.400 0.400 0.400 0.400 0.400 0.400 0.400 0.400 0.400 0.400 0.400 0.400 0.400 0.400 0.400 0.400 0.450 0.450 0.450 0.450 0.450 0.450 0.450 0.450 0.450 0.450 0.450 0.450 0.450 0.450 0.450 0.450 0.450 0.450 0.450 0.450 0.450 0.450 0.450 0.450 0.450 0.450 0.450 0.450 0.450 0.450 0.450 0.450 0.450 0.450 0.450 0.450 0.450 0.450 0.500 0.500 0.500 0.500 0.500 0.500 0.500 0.500 0.500 0.500 0.500 0.500 0.500 0.500 0.500 0.500 0.500 0.500 0.500 0.500 0.500 0.500 0.500 0.500 0.500 0.500 0.500 0.500"/><feFuncG type="discrete" tableValues="0.000 0.000 0.000 0.000 0.000 0.000 0.000 0.000 0.000 0.000 0.000 0.000 0.000 0.000 0.000 0.000 0.000 0.000 0.000 0.000 0.000 0.000 0.000 0.000 0.000 0.000 0.000 0.000 0.000 0.000 0.000 0.000 0.000 0.000 0.000 0.000 0.000 0.000 0.000 0.000 0.000 0.000 0.000 0.000 0.050 0.050 0.050 0.050 0.050 0.050 0.050 0.050 0.050 0.100 0.100 0.100 0.100 0.100 0.100 0.100 0.100 0.100 0.100 0.150 0.150 0.150 0.150 0.150 0.150 0.150 0.150 0.150 0.150 0.150 0.150 0.150 0.200 0.200 0.200 0.200 0.200 0.200 0.200 0.200 0.200 0.200 0.200 0.200 0.200 0.200 0.200 0.250 0.250 0.250 0.250 0.250 0.250 0.250 0.250 0.250 0.250 0.250 0.250 0.250 0.250 0.250 0.250 0.250 0.250 0.250 0.300 0.300 0.300 0.300 0.300 0.300 0.300 0.300 0.300 0.300 0.300 0.300 0.300 0.300 0.300 0.300 0.300 0.300 0.300 0.300 0.300 0.300 0.350 0.350 0.350 0.350 0.350 0.350 0.350 0.350 0.350 0.350 0.350 0.350 0.350 0.350 0.350 0.350 0.350 0.350 0.350 0.350 0.350 0.350 0.350 0.350 0.350 0.350 0.400 0.400 0.400 0.400 0.400 0.400 0.400 0.400 0.400 0.400 0.400 0.400 0.400 0.400 0.400 0.400 0.400 0.400 0.400 0.400 0.400 0.400 0.400 0.400 0.400 0.400 0.400 0.400 0.400 0.400 0.400 0.450 0.450 0.450 0.450 0.450 0.450 0.450 0.450 0.450 0.450 0.450 0.450 0.450 0.450 0.450 0.450 0.450 0.450 0.450 0.450 0.450 0.450 0.450 0.450 0.450 0.450 0.450 0.450 0.450 0.450 0.450 0.450 0.450 0.450 0.450 0.450 0.450 0.450 0.500 0.500 0.500 0.500 0.500 0.500 0.500 0.500 0.500 0.500 0.500 0.500 0.500 0.500 0.500 0.500 0.500 0.500 0.500 0.500 0.500 0.500 0.500 0.500 0.500 0.500 0.500 0.500"/><feFuncB type="discrete" tableValues="0.000 0.000 0.000 0.000 0.000 0.000 0.000 0.000 0.000 0.000 0.000 0.000 0.000 0.000 0.000 0.000 0.000 0.000 0.000 0.000 0.000 0.000 0.000 0.000 0.000 0.000 0.000 0.000 0.000 0.000 0.000 0.000 0.000 0.000 0.000 0.000 0.000 0.000 0.000 0.000 0.000 0.000 0.000 0.000 0.050 0.050 0.050 0.050 0.050 0.050 0.050 0.050 0.050 0.100 0.100 0.100 0.100 0.100 0.100 0.100 0.100 0.100 0.100 0.150 0.150 0.150 0.150 0.150 0.150 0.150 0.150 0.150 0.150 0.150 0.150 0.150 0.200 0.200 0.200 0.200 0.200 0.200 0.200 0.200 0.200 0.200 0.200 0.200 0.200 0.200 0.200 0.250 0.250 0.250 0.250 0.250 0.250 0.250 0.250 0.250 0.250 0.250 0.250 0.250 0.250 0.250 0.250 0.250 0.250 0.250 0.300 0.300 0.300 0.300 0.300 0.300 0.300 0.300 0.300 0.300 0.300 0.300 0.300 0.300 0.300 0.300 0.300 0.300 0.300 0.300 0.300 0.300 0.350 0.350 0.350 0.350 0.350 0.350 0.350 0.350 0.350 0.350 0.350 0.350 0.350 0.350 0.350 0.350 0.350 0.350 0.350 0.350 0.350 0.350 0.350 0.350 0.350 0.350 0.400 0.400 0.400 0.400 0.400 0.400 0.400 0.400 0.400 0.400 0.400 0.400 0.400 0.400 0.400 0.400 0.400 0.400 0.400 0.400 0.400 0.400 0.400 0.400 0.400 0.400 0.400 0.400 0.400 0.400 0.400 0.450 0.450 0.450 0.450 0.450 0.450 0.450 0.450 0.450 0.450 0.450 0.450 0.450 0.450 0.450 0.450 0.450 0.450 0.450 0.450 0.450 0.450 0.450 0.450 0.450 0.450 0.450 0.450 0.450 0.450 0.450 0.450 0.450 0.450 0.450 0.450 0.450 0.450 0.500 0.500 0.500 0.500 0.500 0.500 0.500 0.500 0.500 0.500 0.500 0.500 0.500 0.500 0.500 0.500 0.500 0.500 0.500 0.500 0.500 0.500 0.500 0.500 0.500 0.500 0.500 0.500"/><feFuncA type="linear" slope="0" intercept="1"/></feComponentTransfer><feConvolveMatrix in="Q" order="3" kernelMatrix="0 -1 0 -1 4 -1 0 -1 0" divisor="1" bias="0" preserveAlpha="true" result="D"/><feColorMatrix in="D" type="matrix" values="0 0 0 0 0 0 0 0 0 0 0 0 0 0 0 5 0 0 0 0" result="L"/><feComposite in="L" in2="C" operator="over"/></filter><g transform="rotate(35 345 318)"><g filter="url(#fx1)"><g transform="rotate(-35 345 318)">
<rect x="-100" y="-100" width="900" height="900" fill="#000"/>
<polygon points="281.5,83.5 357.1,83.5 457.9,144.0 457.9,244.9 420.1,244.9 357.1,194.4 281.5,164.2" fill="#15ff00"/>
<polygon points="236.1,156.6 357.1,156.6 357.1,232.2 236.1,232.2" fill="#12ff00"/>
<polygon points="382.3,232.2 432.7,244.9 420.1,345.7 382.3,333.1" fill="#15ff00"/>
<polygon points="331.9,295.3 420.1,295.3 420.1,370.9 331.9,370.9" fill="#14ff00"/>
<polygon points="173.1,358.3 306.7,396.1 306.7,446.5 173.1,408.7" fill="#13ff00"/>
<polygon points="105.0,227.2 168.0,222.2 180.6,295.3 142.8,302.8 105.0,282.7" fill="#17ff00"/>
<polygon points="326.8,396.1 495.7,396.1 558.7,459.1 578.9,514.6 457.9,554.9 344.5,554.9 326.8,459.1" fill="#14ff00"/>
<polygon points="155.4,81.0 296.6,81.0 281.5,118.8 261.3,144.0 241.1,169.2 218.4,186.9 193.2,207.0 168.0,227.2 130.2,232.2 150.4,186.9 163.0,156.6 168.0,118.8" fill="#1aff00"/>
<polygon points="155.4,81.0 284.0,81.0 268.9,118.8 251.2,136.5 236.1,156.6 218.4,176.8 200.8,186.9 180.6,197.0 155.4,217.1 125.2,222.2 150.4,186.9 163.0,156.6 168.0,118.8" fill="#22bf00"/>
<polygon points="170.5,81.0 281.5,81.0 266.3,111.2 246.2,131.4 226.0,146.5 205.8,161.7 180.6,176.8 165.5,156.6 170.5,118.8" fill="#30cc00"/>
<polygon points="200.8,111.2 246.2,116.3 236.1,146.5 210.9,166.7 188.2,164.2" fill="#53ff00"/>
<polygon points="205.8,81.0 281.5,81.0 268.9,108.7 236.1,116.3 215.9,106.2" fill="#538c00"/>
<polygon points="215.9,81.0 246.2,81.0 243.6,108.7 218.4,108.7" fill="#908c00"/>
<ellipse cx="226.0" cy="93.6" rx="10.1" ry="11.3" transform="rotate(0 226.0 93.6)" fill="#ad8c00"/>
<ellipse cx="215.9" cy="132.7" rx="6.3" ry="4.5" transform="rotate(25 215.9 132.7)" fill="#648c00"/>
<ellipse cx="221.0" cy="151.6" rx="10.1" ry="4.5" transform="rotate(25 221.0 151.6)" fill="#788c00"/>
<ellipse cx="205.8" cy="168.0" rx="10.1" ry="5.5" transform="rotate(25 205.8 168.0)" fill="#788c00"/>
<ellipse cx="183.1" cy="161.7" rx="5.0" ry="3.0" transform="rotate(25 183.1 161.7)" fill="#648c00"/>
<ellipse cx="183.1" cy="184.4" rx="6.3" ry="3.5" transform="rotate(25 183.1 184.4)" fill="#648c00"/>
<ellipse cx="165.5" cy="199.5" rx="8.8" ry="3.5" transform="rotate(25 165.5 199.5)" fill="#538c00"/>
<ellipse cx="261.3" cy="108.7" rx="12.6" ry="7.6" transform="rotate(25 261.3 108.7)" fill="#648c00"/>
<ellipse cx="145.3" cy="266.3" rx="22.7" ry="3.0" transform="rotate(0 145.3 266.3)" fill="#28cc00"/>
<ellipse cx="150.4" cy="266.8" rx="10.1" ry="1.5" transform="rotate(0 150.4 266.8)" fill="#3acc00"/>
<ellipse cx="155.4" cy="287.7" rx="17.6" ry="2.3" transform="rotate(0 155.4 287.7)" fill="#22bf00"/>
<polygon points="415.1,156.6 460.4,164.2 465.5,186.9 432.7,186.9 412.5,176.8" fill="#22bf00"/>
<ellipse cx="445.3" cy="169.2" rx="12.6" ry="6.3" transform="rotate(20 445.3 169.2)" fill="#788c00"/>
<ellipse cx="456.7" cy="173.0" rx="4.5" ry="3.8" transform="rotate(0 456.7 173.0)" fill="#ad8c00"/>
<polygon points="367.2,156.6 394.9,156.6 389.9,202.0 372.2,207.0" fill="#22bf00"/>
<ellipse cx="377.2" cy="191.9" rx="3.8" ry="6.3" transform="rotate(0 377.2 191.9)" fill="#3acc00"/>
<polygon points="417.6,207.0 463.0,186.9 533.5,237.3 538.6,408.7 518.4,416.3 470.5,398.6 432.7,383.5 394.9,358.3 387.3,320.5 407.5,282.7 432.7,244.9" fill="#1aff00"/>
<polygon points="432.7,244.9 470.5,207.0 533.5,237.3 538.6,403.7 503.3,408.7 463.0,383.5 432.7,363.3 422.6,307.9" fill="#28ff00"/>
<polygon points="465.5,244.9 488.2,222.2 533.5,237.3 538.6,401.1 498.2,396.1 470.5,358.3 463.0,295.3" fill="#53cc00"/>
<polygon points="488.2,232.2 531.0,237.3 533.5,398.6 503.3,393.6 490.7,345.7 485.6,282.7" fill="#908c00"/>
<ellipse cx="508.3" cy="257.5" rx="10.1" ry="15.1" transform="rotate(0 508.3 257.5)" fill="#d08c00"/>
<ellipse cx="505.8" cy="312.9" rx="10.1" ry="12.6" transform="rotate(0 505.8 312.9)" fill="#d08c00"/>
<ellipse cx="520.9" cy="370.9" rx="10.1" ry="12.6" transform="rotate(0 520.9 370.9)" fill="#d08c00"/>
<ellipse cx="515.9" cy="373.4" rx="7.6" ry="6.3" transform="rotate(0 515.9 373.4)" fill="#30cc00"/>
<ellipse cx="468.0" cy="267.5" rx="7.6" ry="10.1" transform="rotate(60 468.0 267.5)" fill="#788c00"/>
<ellipse cx="473.0" cy="222.2" rx="5.0" ry="7.6" transform="rotate(60 473.0 222.2)" fill="#648c00"/>
<ellipse cx="440.3" cy="486.8" rx="20.2" ry="6.3" transform="rotate(15 440.3 486.8)" fill="#30cc00"/>
<ellipse cx="437.7" cy="485.6" rx="7.6" ry="3.5" transform="rotate(15 437.7 485.6)" fill="#538c00"/>
<ellipse cx="468.0" cy="478.0" rx="30.2" ry="4.5" transform="rotate(15 468.0 478.0)" fill="#28cc00"/>
<ellipse cx="420.1" cy="418.8" rx="27.7" ry="6.3" transform="rotate(15 420.1 418.8)" fill="#30cc00"/>
<ellipse cx="389.9" cy="416.3" rx="20.2" ry="6.3" transform="rotate(20 389.9 416.3)" fill="#28cc00"/>
<ellipse cx="394.9" cy="416.3" rx="7.6" ry="2.5" transform="rotate(20 394.9 416.3)" fill="#3acc00"/>
<ellipse cx="382.3" cy="446.5" rx="30.2" ry="5.0" transform="rotate(-25 382.3 446.5)" fill="#28cc00"/>
<ellipse cx="397.4" cy="461.6" rx="6.3" ry="3.0" transform="rotate(-25 397.4 461.6)" fill="#648c00"/>
<ellipse cx="372.2" cy="502.0" rx="35.3" ry="12.6" transform="rotate(-15 372.2 502.0)" fill="#28cc00"/>
<ellipse cx="372.2" cy="494.4" rx="12.6" ry="5.0" transform="rotate(-5 372.2 494.4)" fill="#538c00"/>
<ellipse cx="357.1" cy="529.7" rx="22.7" ry="10.1" transform="rotate(0 357.1 529.7)" fill="#28cc00"/>
<ellipse cx="523.5" cy="449.0" rx="5.0" ry="15.1" transform="rotate(-60 523.5 449.0)" fill="#30cc00"/>
<ellipse cx="523.5" cy="449.0" rx="2.0" ry="6.3" transform="rotate(-60 523.5 449.0)" fill="#648c00"/>
<ellipse cx="538.6" cy="474.2" rx="5.0" ry="15.1" transform="rotate(-60 538.6 474.2)" fill="#30cc00"/>
<ellipse cx="538.6" cy="474.2" rx="2.0" ry="6.3" transform="rotate(-60 538.6 474.2)" fill="#648c00"/>
<ellipse cx="563.8" cy="491.9" rx="5.0" ry="10.1" transform="rotate(0 563.8 491.9)" fill="#28cc00"/>
<ellipse cx="291.5" cy="431.4" rx="12.6" ry="6.3" transform="rotate(20 291.5 431.4)" fill="#30cc00"/>
<ellipse cx="291.5" cy="431.4" rx="5.0" ry="2.5" transform="rotate(20 291.5 431.4)" fill="#46cc00"/>
</g></g></g></g>
<polygon points="551.1,243.2 555.2,244.0 559.2,245.6 562.5,244.8 562.5,251.3 560.9,259.5 560.1,267.7 559.0,275.0 557.0,279.0 551.0,279.5 549.4,274.0 547.8,269.3 546.2,266.1 548.2,261.2 547.8,253.0 550.2,247.3" fill="#111"/><polygon points="532.3,281.6 538.8,281.6 541.3,285.7 540.4,292.2 543.7,298.8 547.0,302.0 549.4,310.2 546.2,313.5 547.8,321.7 543.7,323.3 540.4,316.7 536.3,313.5 530.6,308.6 528.2,300.4 529.0,295.5 530.6,288.1" fill="#2a2a2a"/><polygon points="562.5,363.3 563.3,367.4 560.9,378.1 556.0,382.1 551.1,378.9 547.0,375.6 544.5,375.6 548.6,374.0 555.2,369.9 559.2,365.8" fill="#111"/>
<use href="#grid"/>
<use href="#outline"/>
<rect x="105.6" y="81.4" width="479.4" height="472.9" fill="none" stroke="#000" stroke-width="2.5"/>
<text x="105.8" y="62.9" font-size="42.8">(b) Lin</text>
<text x="90.4" y="172.7" font-size="31" text-anchor="end">3°S</text>
<text x="90.4" y="302.3" font-size="31" text-anchor="end">6°S</text>
<text x="90.4" y="431.8" font-size="31" text-anchor="end">9°S</text>
<text x="90.4" y="561.5" font-size="31" text-anchor="end">12°S</text>
<text x="233.6" y="593.7" font-size="31" text-anchor="middle">32.3°E</text>
<text x="363.5" y="593.7" font-size="31" text-anchor="middle">35.3°E</text>
<text x="493.3" y="593.7" font-size="31" text-anchor="middle">38.3°E</text>
</g>
<g transform="translate(1153.7,0)">
<g clip-path="url(#land)"><filter id="fx2" filterUnits="userSpaceOnUse" x="-400" y="-400" width="1600" height="1600" color-interpolation-filters="sRGB"><feGaussianBlur in="SourceGraphic" stdDeviation="4" result="B"/><feColorMatrix in="B" type="matrix" values="1 0 0 0 0 1 0 0 0 0 1 0 0 0 0 0 0 0 0 1" result="F"/><feColorMatrix in="B" type="matrix" values="0 1 0 0 0 0 1 0 0 0 0 1 0 0 0 0 0 0 0 1" result="A"/><feTurbulence type="fractalNoise" baseFrequency="0.04 0.12" numOctaves="3" seed="11" result="N"/><feColorMatrix in="N" type="matrix" values="1 0 0 0 0 1 0 0 0 0 1 0 0 0 0 0 0 0 0 1" result="N1"/><feComposite in="A" in2="N1" operator="arithmetic" k1="1" k2="-0.5" k3="0" k4="0.5" result="M"/><feComposite in="F" in2="M" operator="arithmetic" k1="2.4" k2="-0.2" k3="0" k4="0" result="V"/><feComponentTransfer in="V" result="C"><feFuncR type="discrete" tableValues="1 1 1 1 1 1 1 1 1 1 1 1 1 1 1 1 1 1 1 1 1 1 1 1 1 0.306 0.306 0.306 0.306 0.306 0.306 0 0 0 0 0 0 0 0 0 0 0 0 0 0 0 0 0 0 0 0 0 0 0.502 0.502 0.502 0.502 0.502 0.502 0.502 0.502 0.502 0.502 1 1 1 1 1 1 1 1 1 1 1 1 1 1 1 1 1 1 1 1 1 1 1 1 1 1 1 1 1 1 1 1 1 1 1 1 1 1 1 1 1 1 1 1 1 1 1 1 1 1 1 1 1 1 1 1 1 1 1 1 1 1 1 1 1 1 1 1 1 0.941 0.941 0.941 0.941 0.941 0.941 0.941 0.941 0.941 0.941 0.941 0.941 0.941 0.941 0.941 0.941 0.941 0.941 0.941 0.941 0.941 0.941 0.941 0.941 0.941 0.941 0.502 0.502 0.502 0.502 0.502 0.502 0.502 0.502 0.502 0.502 0.502 0.502 0.502 0.502 0.502 0.502 0.502 0.502 0.502 0.502 0.502 0.502 0.502 0.502 0.502 0.502 0.502 0.502 0.502 0.502 0.502 0.235 0.235 0.235 0.235 0.235 0.235 0.235 0.235 0.235 0.235 0.235 0.235 0.235 0.235 0.235 0.235 0.235 0.235 0.235 0.235 0.235 0.235 0.235 0.235 0.235 0.235 0.235 0.235 0.235 0.235 0.235 0.235 0.235 0.235 0.235 0.235 0.235 0.235 0.118 0.118 0.118 0.118 0.118 0.118 0.118 0.118 0.118 0.118 0.118 0.118 0.118 0.118 0.118 0.118 0.118 0.118 0.118 0.118 0.118 0.118 0.118 0.118 0.118 0.118 0.118 0.118"/><feFuncG type="discrete" tableValues="1 1 1 1 1 1 1 1 1 1 1 1 1 1 1 1 1 1 1 1 1 1 1 1 1 0.812 0.812 0.812 0.812 0.812 0.812 1 1 1 1 1 1 0.851 0.851 0.851 0.851 0.851 0.851 0.851 0.753 0.753 0.753 0.753 0.753 0.753 0.753 0.753 0.753 0.847 0.847 0.847 0.847 0.847 0.847 0.847 0.847 0.847 0.847 1 1 1 1 1 1 1 1 1 1 1 1 1 0.624 0.624 0.624 0.624 0.624 0.624 0.624 0.624 0.624 0.624 0.624 0.624 0.624 0.624 0.624 0 0 0 0 0 0 0 0 0 0 0 0 0 0 0 0 0 0 0 0.102 0.102 0.102 0.102 0.102 0.102 0.102 0.102 0.102 0.102 0.102 0.102 0.102 0.102 0.102 0.102 0.102 0.102 0.102 0.102 0.102 0.102 0.251 0.251 0.251 0.251 0.251 0.251 0.251 0.251 0.251 0.251 0.251 0.251 0.251 0.251 0.251 0.251 0.251 0.251 0.251 0.251 0.251 0.251 0.251 0.251 0.251 0.251 0.125 0.125 0.125 0.125 0.125 0.125 0.125 0.125 0.125 0.125 0.125 0.125 0.125 0.125 0.125 0.125 0.125 0.125 0.125 0.125 0.125 0.125 0.125 0.125 0.125 0.125 0.125 0.125 0.125 0.125 0.125 0.235 0.235 0.235 0.235 0.235 0.235 0.235 0.235 0.235 0.235 0.235 0.235 0.235 0.235 0.235 0.235 0.235 0.235 0.235 0.235 0.235 0.235 0.235 0.235 0.235 0.235 0.235 0.235 0.235 0.235 0.235 0.235 0.235 0.235 0.235 0.235 0.235 0.235 0.118 0.118 0.118 0.118 0.118 0.118 0.118 0.118 0.118 0.118 0.118 0.118 0.118 0.118 0.118 0.118 0.118 0.118 0.118 0.118 0.118 0.118 0.118 0.118 0.118 0.118 0.118 0.118"/><feFuncB type="discrete" tableValues="1 1 1 1 1 1 1 1 1 1 1 1 1 1 1 1 1 1 1 1 1 1 1 1 1 0.824 0.824 0.824 0.824 0.824 0.824 1 1 1 1 1 1 0.541 0.541 0.541 0.541 0.541 0.541 0.541 0 0 0 0 0 0 0 0 0 0 0 0 0 0 0 0 0 0 0 0 0 0 0 0 0 0 0 0 0 0 0 0 0 0 0 0 0 0 0 0 0 0 0 0 0 0 0 0 0 0 0 0 0 0 0 0 0 0 0 0 0 0 0 0 0 0 0.431 0.431 0.431 0.431 0.431 0.431 0.431 0.431 0.431 0.431 0.431 0.431 0.431 0.431 0.431 0.431 0.431 0.431 0.431 0.431 0.431 0.431 1 1 1 1 1 1 1 1 1 1 1 1 1 1 1 1 1 1 1 1 1 1 1 1 1 1 1 1 1 1 1 1 1 1 1 1 1 1 1 1 1 1 1 1 1 1 1 1 1 1 1 1 1 1 1 1 1 1 1 1 1 1 1 1 1 1 1 1 1 1 1 1 1 1 1 1 1 1 1 1 1 1 1 1 1 1 1 1 1 1 1 1 1 1 1 0.471 0.471 0.471 0.471 0.471 0.471 0.471 0.471 0.471 0.471 0.471 0.471 0.471 0.471 0.471 0.471 0.471 0.471 0.471 0.471 0.471 0.471 0.471 0.471 0.471 0.471 0.471 0.471"/><feFuncA type="linear" slope="0" intercept="1"/></feComponentTransfer><feComponentTransfer in="V" result="Q"><feFuncR type="discrete" tableValues="0.000 0.000 0.000 0.000 0.000 0.000 0.000 0.000 0.000 0.000 0.000 0.000 0.000 0.000 0.000 0.000 0.000 0.000 0.000 0.000 0.000 0.000 0.000 0.000 0.000 0.000 0.000 0.000 0.000 0.000 0.000 0.000 0.000 0.000 0.000 0.000 0.000 0.000 0.000 0.000 0.000 0.000 0.000 0.000 0.050 0.050 0.050 0.050 0.050 0.050 0.050 0.050 0.050 0.100 0.100 0.100 0.100 0.100 0.100 0.100 0.100 0.100 0.100 0.150 0.150 0.150 0.150 0.150 0.150 0.150 0.150 0.150 0.150 0.150 0.150 0.150 0.200 0.200 0.200 0.200 0.200 0.200 0.200 0.200 0.200 0.200 0.200 0.200 0.200 0.200 0.200 0.250 0.250 0.250 0.250 0.250 0.250 0.250 0.250 0.250 0.250 0.250 0.250 0.250 0.250 0.250 0.250 0.250 0.250 0.250 0.300 0.300 0.300 0.300 0.300 0.300 0.300 0.300 0.300 0.300 0.300 0.300 0.300 0.300 0.300 0.300 0.300 0.300 0.300 0.300 0.300 0.300 0.350 0.350 0.350 0.350 0.350 0.350 0.350 0.350 0.350 0.350 0.350 0.350 0.350 0.350 0.350 0.350 0.350 0.350 0.350 0.350 0.350 0.350 0.350 0.350 0.350 0.350 0.400 0.400 0.400 0.400 0.400 0.400 0.400 0.400 0.400 0.400 0.400 0.400 0.400 0.400 0.400 0.400 0.400 0.400 0.400 0.400 0.400 0.400 0.400 0.400 0.400 0.400 0.400 0.400 0.400 0.400 0.400 0.450 0.450 0.450 0.450 0.450 0.450 0.450 0.450 0.450 0.450 0.450 0.450 0.450 0.450 0.450 0.450 0.450 0.450 0.450 0.450 0.450 0.450 0.450 0.450 0.450 0.450 0.450 0.450 0.450 0.450 0.450 0.450 0.450 0.450 0.450 0.450 0.450 0.450 0.500 0.500 0.500 0.500 0.500 0.500 0.500 0.500 0.500 0.500 0.500 0.500 0.500 0.500 0.500 0.500 0.500 0.500 0.500 0.500 0.500 0.500 0.500 0.500 0.500 0.500 0.500 0.500"/><feFuncG type="discrete" tableValues="0.000 0.000 0.000 0.000 0.000 0.000 0.000 0.000 0.000 0.000 0.000 0.000 0.000 0.000 0.000 0.000 0.000 0.000 0.000 0.000 0.000 0.000 0.000 0.000 0.000 0.000 0.000 0.000 0.000 0.000 0.000 0.000 0.000 0.000 0.000 0.000 0.000 0.000 0.000 0.000 0.000 0.000 0.000 0.000 0.050 0.050 0.050 0.050 0.050 0.050 0.050 0.050 0.050 0.100 0.100 0.100 0.100 0.100 0.100 0.100 0.100 0.100 0.100 0.150 0.150 0.150 0.150 0.150 0.150 0.150 0.150 0.150 0.150 0.150 0.150 0.150 0.200 0.200 0.200 0.200 0.200 0.200 0.200 0.200 0.200 0.200 0.200 0.200 0.200 0.200 0.200 0.250 0.250 0.250 0.250 0.250 0.250 0.250 0.250 0.250 0.250 0.250 0.250 0.250 0.250 0.250 0.250 0.250 0.250 0.250 0.300 0.300 0.300 0.300 0.300 0.300 0.300 0.300 0.300 0.300 0.300 0.300 0.300 0.300 0.300 0.300 0.300 0.300 0.300 0.300 0.300 0.300 0.350 0.350 0.350 0.350 0.350 0.350 0.350 0.350 0.350 0.350 0.350 0.350 0.350 0.350 0.350 0.350 0.350 0.350 0.350 0.350 0.350 0.350 0.350 0.350 0.350 0.350 0.400 0.400 0.400 0.400 0.400 0.400 0.400 0.400 0.400 0.400 0.400 0.400 0.400 0.400 0.400 0.400 0.400 0.400 0.400 0.400 0.400 0.400 0.400 0.400 0.400 0.400 0.400 0.400 0.400 0.400 0.400 0.450 0.450 0.450 0.450 0.450 0.450 0.450 0.450 0.450 0.450 0.450 0.450 0.450 0.450 0.450 0.450 0.450 0.450 0.450 0.450 0.450 0.450 0.450 0.450 0.450 0.450 0.450 0.450 0.450 0.450 0.450 0.450 0.450 0.450 0.450 0.450 0.450 0.450 0.500 0.500 0.500 0.500 0.500 0.500 0.500 0.500 0.500 0.500 0.500 0.500 0.500 0.500 0.500 0.500 0.500 0.500 0.500 0.500 0.500 0.500 0.500 0.500 0.500 0.500 0.500 0.500"/><feFuncB type="discrete" tableValues="0.000 0.000 0.000 0.000 0.000 0.000 0.000 0.000 0.000 0.000 0.000 0.000 0.000 0.000 0.000 0.000 0.000 0.000 0.000 0.000 0.000 0.000 0.000 0.000 0.000 0.000 0.000 0.000 0.000 0.000 0.000 0.000 0.000 0.000 0.000 0.000 0.000 0.000 0.000 0.000 0.000 0.000 0.000 0.000 0.050 0.050 0.050 0.050 0.050 0.050 0.050 0.050 0.050 0.100 0.100 0.100 0.100 0.100 0.100 0.100 0.100 0.100 0.100 0.150 0.150 0.150 0.150 0.150 0.150 0.150 0.150 0.150 0.150 0.150 0.150 0.150 0.200 0.200 0.200 0.200 0.200 0.200 0.200 0.200 0.200 0.200 0.200 0.200 0.200 0.200 0.200 0.250 0.250 0.250 0.250 0.250 0.250 0.250 0.250 0.250 0.250 0.250 0.250 0.250 0.250 0.250 0.250 0.250 0.250 0.250 0.300 0.300 0.300 0.300 0.300 0.300 0.300 0.300 0.300 0.300 0.300 0.300 0.300 0.300 0.300 0.300 0.300 0.300 0.300 0.300 0.300 0.300 0.350 0.350 0.350 0.350 0.350 0.350 0.350 0.350 0.350 0.350 0.350 0.350 0.350 0.350 0.350 0.350 0.350 0.350 0.350 0.350 0.350 0.350 0.350 0.350 0.350 0.350 0.400 0.400 0.400 0.400 0.400 0.400 0.400 0.400 0.400 0.400 0.400 0.400 0.400 0.400 0.400 0.400 0.400 0.400 0.400 0.400 0.400 0.400 0.400 0.400 0.400 0.400 0.400 0.400 0.400 0.400 0.400 0.450 0.450 0.450 0.450 0.450 0.450 0.450 0.450 0.450 0.450 0.450 0.450 0.450 0.450 0.450 0.450 0.450 0.450 0.450 0.450 0.450 0.450 0.450 0.450 0.450 0.450 0.450 0.450 0.450 0.450 0.450 0.450 0.450 0.450 0.450 0.450 0.450 0.450 0.500 0.500 0.500 0.500 0.500 0.500 0.500 0.500 0.500 0.500 0.500 0.500 0.500 0.500 0.500 0.500 0.500 0.500 0.500 0.500 0.500 0.500 0.500 0.500 0.500 0.500 0.500 0.500"/><feFuncA type="linear" slope="0" intercept="1"/></feComponentTransfer><feConvolveMatrix in="Q" order="3" kernelMatrix="0 -1 0 -1 4 -1 0 -1 0" divisor="1" bias="0" preserveAlpha="true" result="D"/><feColorMatrix in="D" type="matrix" values="0 0 0 0 0 0 0 0 0 0 0 0 0 0 0 5 0 0 0 0" result="L"/><feComposite in="L" in2="C" operator="over"/></filter><g transform="rotate(30 345 318)"><g filter="url(#fx2)"><g transform="rotate(-30 345 318)">
<rect x="-100" y="-100" width="900" height="900" fill="#000"/>
<polygon points="243.9,86.0 327.1,86.0 370.0,118.8 357.4,161.7 281.8,164.2 243.9,144.0" fill="#15ff00"/>
<polygon points="357.4,156.6 445.6,156.6 433.0,257.5 357.4,270.1" fill="#13ff00"/>
<polygon points="105.3,224.7 175.9,224.7 175.9,272.6 105.3,272.6" fill="#1aff00"/>
<polygon points="180.9,207.0 357.4,207.0 357.4,333.1 180.9,333.1" fill="#0fff00"/>
<polygon points="332.2,396.1 470.8,383.5 546.4,433.9 571.6,509.5 483.4,554.9 344.8,554.9 332.2,459.1" fill="#16ff00"/>
<polygon points="226.3,403.7 319.6,408.7 319.6,449.0 226.3,439.0" fill="#14ff00"/>
<polygon points="155.7,81.0 319.6,81.0 296.9,106.2 276.7,131.4 256.5,156.6 236.4,176.8 226.3,194.4 180.9,199.5 153.2,199.5 163.3,156.6 168.3,118.8" fill="#22bf00"/>
<polygon points="180.9,81.0 301.9,81.0 281.8,111.2 261.6,136.5 241.4,161.7 216.2,176.8 180.9,181.8 168.3,156.6 173.4,118.8" fill="#30cc00"/>
<polygon points="201.1,81.0 286.8,81.0 276.7,111.2 246.5,121.3 216.2,116.3 201.1,101.2" fill="#648c00"/>
<ellipse cx="246.5" cy="93.6" rx="32.8" ry="11.3" transform="rotate(0 246.5 93.6)" fill="#ad8c00"/>
<ellipse cx="223.8" cy="88.6" rx="7.6" ry="6.3" transform="rotate(0 223.8 88.6)" fill="#d08c00"/>
<ellipse cx="211.2" cy="136.5" rx="6.3" ry="5.0" transform="rotate(25 211.2 136.5)" fill="#ad8c00"/>
<ellipse cx="246.5" cy="126.4" rx="7.6" ry="5.0" transform="rotate(25 246.5 126.4)" fill="#788c00"/>
<ellipse cx="216.2" cy="151.6" rx="10.1" ry="5.0" transform="rotate(25 216.2 151.6)" fill="#648c00"/>
<ellipse cx="196.0" cy="144.0" rx="7.6" ry="5.0" transform="rotate(25 196.0 144.0)" fill="#648c00"/>
<ellipse cx="223.8" cy="164.2" rx="7.6" ry="3.8" transform="rotate(25 223.8 164.2)" fill="#648c00"/>
<ellipse cx="173.4" cy="184.4" rx="8.8" ry="4.5" transform="rotate(25 173.4 184.4)" fill="#788c00"/>
<ellipse cx="188.5" cy="179.3" rx="6.3" ry="3.0" transform="rotate(25 188.5 179.3)" fill="#538c00"/>
<ellipse cx="259.1" cy="123.9" rx="5.0" ry="3.8" transform="rotate(25 259.1 123.9)" fill="#788c00"/>
<ellipse cx="332.2" cy="139.0" rx="20.2" ry="7.6" transform="rotate(10 332.2 139.0)" fill="#30cc00"/>
<ellipse cx="296.9" cy="144.0" rx="15.1" ry="6.3" transform="rotate(10 296.9 144.0)" fill="#28cc00"/>
<ellipse cx="128.0" cy="307.9" rx="11.3" ry="7.6" transform="rotate(20 128.0 307.9)" fill="#46cc00"/>
<ellipse cx="128.0" cy="310.4" rx="3.8" ry="2.5" transform="rotate(20 128.0 310.4)" fill="#648c00"/>
<ellipse cx="155.7" cy="261.2" rx="15.1" ry="2.5" transform="rotate(0 155.7 261.2)" fill="#28cc00"/>
<polygon points="420.4,156.6 463.3,161.7 465.8,186.9 422.9,186.9" fill="#22bf00"/>
<ellipse cx="450.6" cy="169.2" rx="10.1" ry="6.3" transform="rotate(30 450.6 169.2)" fill="#788c00"/>
<ellipse cx="380.1" cy="189.4" rx="5.0" ry="22.7" transform="rotate(80 380.1 189.4)" fill="#22bf00"/>
<polygon points="433.0,207.0 463.3,186.9 533.8,237.3 538.9,413.7 533.8,421.3 470.8,398.6 422.9,375.9 407.8,333.1 415.4,282.7 430.5,242.3" fill="#1aff00"/>
<polygon points="453.2,232.2 478.4,197.0 533.8,237.3 538.9,408.7 496.0,396.1 453.2,370.9 430.5,333.1 433.0,295.3" fill="#28ff00"/>
<polygon points="470.8,237.3 488.5,212.1 533.8,237.3 538.9,408.7 498.5,396.1 463.3,365.9 443.1,333.1 453.2,295.3" fill="#3ae600"/>
<polygon points="478.4,244.9 498.5,217.1 533.8,237.3 538.9,403.7 498.5,383.5 463.3,353.2 453.2,307.9 463.3,277.6" fill="#648c00"/>
<polygon points="498.5,232.2 531.3,237.3 528.8,295.3 513.7,307.9 498.5,287.7" fill="#ad8c00"/>
<polygon points="513.7,320.5 538.9,333.1 541.4,370.9 523.8,383.5 503.6,358.3" fill="#ad8c00"/>
<ellipse cx="475.9" cy="312.9" rx="15.1" ry="10.1" transform="rotate(30 475.9 312.9)" fill="#908c00"/>
<ellipse cx="453.2" cy="348.2" rx="12.6" ry="5.0" transform="rotate(30 453.2 348.2)" fill="#788c00"/>
<ellipse cx="498.5" cy="393.6" rx="25.2" ry="5.0" transform="rotate(30 498.5 393.6)" fill="#30cc00"/>
<ellipse cx="521.2" cy="406.2" rx="20.2" ry="5.0" transform="rotate(30 521.2 406.2)" fill="#28cc00"/>
<ellipse cx="385.1" cy="408.7" rx="30.2" ry="10.1" transform="rotate(20 385.1 408.7)" fill="#28cc00"/>
<ellipse cx="397.7" cy="403.7" rx="5.0" ry="2.5" transform="rotate(20 397.7 403.7)" fill="#648c00"/>
<ellipse cx="286.8" cy="431.4" rx="7.6" ry="3.8" transform="rotate(20 286.8 431.4)" fill="#3acc00"/>
<ellipse cx="286.8" cy="431.4" rx="3.0" ry="1.8" transform="rotate(20 286.8 431.4)" fill="#648c00"/>
<ellipse cx="395.2" cy="446.5" rx="37.8" ry="10.1" transform="rotate(15 395.2 446.5)" fill="#28cc00"/>
<ellipse cx="405.3" cy="447.8" rx="12.6" ry="2.5" transform="rotate(15 405.3 447.8)" fill="#46cc00"/>
<ellipse cx="387.6" cy="494.4" rx="42.9" ry="15.1" transform="rotate(-10 387.6 494.4)" fill="#28cc00"/>
<ellipse cx="395.2" cy="491.9" rx="15.1" ry="3.0" transform="rotate(-10 395.2 491.9)" fill="#46cc00"/>
<ellipse cx="364.9" cy="496.9" rx="20.2" ry="6.3" transform="rotate(0 364.9 496.9)" fill="#30cc00"/>
<ellipse cx="364.9" cy="496.9" rx="7.6" ry="2.0" transform="rotate(0 364.9 496.9)" fill="#46cc00"/>
<ellipse cx="357.4" cy="522.1" rx="17.6" ry="10.1" transform="rotate(0 357.4 522.1)" fill="#28cc00"/>
<ellipse cx="521.2" cy="471.7" rx="22.7" ry="17.6" transform="rotate(45 521.2 471.7)" fill="#28cc00"/>
<ellipse cx="523.8" cy="474.2" rx="5.0" ry="3.0" transform="rotate(30 523.8 474.2)" fill="#648c00"/>
<ellipse cx="420.4" cy="433.9" rx="22.7" ry="5.0" transform="rotate(20 420.4 433.9)" fill="#28cc00"/>
</g></g></g></g>
<polygon points="551.1,243.2 555.2,244.0 559.2,245.6 562.5,244.8 562.5,251.3 560.9,259.5 560.1,267.7 559.0,275.0 557.0,279.0 551.0,279.5 549.4,274.0 547.8,269.3 546.2,266.1 548.2,261.2 547.8,253.0 550.2,247.3" fill="#111"/><polygon points="532.3,281.6 538.8,281.6 541.3,285.7 540.4,292.2 543.7,298.8 547.0,302.0 549.4,310.2 546.2,313.5 547.8,321.7 543.7,323.3 540.4,316.7 536.3,313.5 530.6,308.6 528.2,300.4 529.0,295.5 530.6,288.1" fill="#2a2a2a"/><polygon points="562.5,363.3 563.3,367.4 560.9,378.1 556.0,382.1 551.1,378.9 547.0,375.6 544.5,375.6 548.6,374.0 555.2,369.9 559.2,365.8" fill="#111"/>
<use href="#grid"/>
<use href="#outline"/>
<rect x="105.6" y="81.4" width="479.4" height="472.9" fill="none" stroke="#000" stroke-width="2.5"/>
<text x="105.8" y="62.9" font-size="42.8">(c) WSM5</text>
<text x="90.4" y="172.7" font-size="31" text-anchor="end">3°S</text>
<text x="90.4" y="302.3" font-size="31" text-anchor="end">6°S</text>
<text x="90.4" y="431.8" font-size="31" text-anchor="end">9°S</text>
<text x="90.4" y="561.5" font-size="31" text-anchor="end">12°S</text>
<text x="233.6" y="593.7" font-size="31" text-anchor="middle">32.3°E</text>
<text x="363.5" y="593.7" font-size="31" text-anchor="middle">35.3°E</text>
<text x="493.3" y="593.7" font-size="31" text-anchor="middle">38.3°E</text>
</g>
<g transform="translate(0,721.0)">
<g clip-path="url(#land)"><filter id="fx3" filterUnits="userSpaceOnUse" x="-400" y="-400" width="1600" height="1600" color-interpolation-filters="sRGB"><feGaussianBlur in="SourceGraphic" stdDeviation="4" result="B"/><feColorMatrix in="B" type="matrix" values="1 0 0 0 0 1 0 0 0 0 1 0 0 0 0 0 0 0 0 1" result="F"/><feColorMatrix in="B" type="matrix" values="0 1 0 0 0 0 1 0 0 0 0 1 0 0 0 0 0 0 0 1" result="A"/><feTurbulence type="fractalNoise" baseFrequency="0.04 0.12" numOctaves="3" seed="23" result="N"/><feColorMatrix in="N" type="matrix" values="1 0 0 0 0 1 0 0 0 0 1 0 0 0 0 0 0 0 0 1" result="N1"/><feComposite in="A" in2="N1" operator="arithmetic" k1="1" k2="-0.5" k3="0" k4="0.5" result="M"/><feComposite in="F" in2="M" operator="arithmetic" k1="2.4" k2="-0.2" k3="0" k4="0" result="V"/><feComponentTransfer in="V" result="C"><feFuncR type="discrete" tableValues="1 1 1 1 1 1 1 1 1 1 1 1 1 1 1 1 1 1 1 1 1 1 1 1 1 0.306 0.306 0.306 0.306 0.306 0.306 0 0 0 0 0 0 0 0 0 0 0 0 0 0 0 0 0 0 0 0 0 0 0.502 0.502 0.502 0.502 0.502 0.502 0.502 0.502 0.502 0.502 1 1 1 1 1 1 1 1 1 1 1 1 1 1 1 1 1 1 1 1 1 1 1 1 1 1 1 1 1 1 1 1 1 1 1 1 1 1 1 1 1 1 1 1 1 1 1 1 1 1 1 1 1 1 1 1 1 1 1 1 1 1 1 1 1 1 1 1 1 0.941 0.941 0.941 0.941 0.941 0.941 0.941 0.941 0.941 0.941 0.941 0.941 0.941 0.941 0.941 0.941 0.941 0.941 0.941 0.941 0.941 0.941 0.941 0.941 0.941 0.941 0.502 0.502 0.502 0.502 0.502 0.502 0.502 0.502 0.502 0.502 0.502 0.502 0.502 0.502 0.502 0.502 0.502 0.502 0.502 0.502 0.502 0.502 0.502 0.502 0.502 0.502 0.502 0.502 0.502 0.502 0.502 0.235 0.235 0.235 0.235 0.235 0.235 0.235 0.235 0.235 0.235 0.235 0.235 0.235 0.235 0.235 0.235 0.235 0.235 0.235 0.235 0.235 0.235 0.235 0.235 0.235 0.235 0.235 0.235 0.235 0.235 0.235 0.235 0.235 0.235 0.235 0.235 0.235 0.235 0.118 0.118 0.118 0.118 0.118 0.118 0.118 0.118 0.118 0.118 0.118 0.118 0.118 0.118 0.118 0.118 0.118 0.118 0.118 0.118 0.118 0.118 0.118 0.118 0.118 0.118 0.118 0.118"/><feFuncG type="discrete" tableValues="1 1 1 1 1 1 1 1 1 1 1 1 1 1 1 1 1 1 1 1 1 1 1 1 1 0.812 0.812 0.812 0.812 0.812 0.812 1 1 1 1 1 1 0.851 0.851 0.851 0.851 0.851 0.851 0.851 0.753 0.753 0.753 0.753 0.753 0.753 0.753 0.753 0.753 0.847 0.847 0.847 0.847 0.847 0.847 0.847 0.847 0.847 0.847 1 1 1 1 1 1 1 1 1 1 1 1 1 0.624 0.624 0.624 0.624 0.624 0.624 0.624 0.624 0.624 0.624 0.624 0.624 0.624 0.624 0.624 0 0 0 0 0 0 0 0 0 0 0 0 0 0 0 0 0 0 0 0.102 0.102 0.102 0.102 0.102 0.102 0.102 0.102 0.102 0.102 0.102 0.102 0.102 0.102 0.102 0.102 0.102 0.102 0.102 0.102 0.102 0.102 0.251 0.251 0.251 0.251 0.251 0.251 0.251 0.251 0.251 0.251 0.251 0.251 0.251 0.251 0.251 0.251 0.251 0.251 0.251 0.251 0.251 0.251 0.251 0.251 0.251 0.251 0.125 0.125 0.125 0.125 0.125 0.125 0.125 0.125 0.125 0.125 0.125 0.125 0.125 0.125 0.125 0.125 0.125 0.125 0.125 0.125 0.125 0.125 0.125 0.125 0.125 0.125 0.125 0.125 0.125 0.125 0.125 0.235 0.235 0.235 0.235 0.235 0.235 0.235 0.235 0.235 0.235 0.235 0.235 0.235 0.235 0.235 0.235 0.235 0.235 0.235 0.235 0.235 0.235 0.235 0.235 0.235 0.235 0.235 0.235 0.235 0.235 0.235 0.235 0.235 0.235 0.235 0.235 0.235 0.235 0.118 0.118 0.118 0.118 0.118 0.118 0.118 0.118 0.118 0.118 0.118 0.118 0.118 0.118 0.118 0.118 0.118 0.118 0.118 0.118 0.118 0.118 0.118 0.118 0.118 0.118 0.118 0.118"/><feFuncB type="discrete" tableValues="1 1 1 1 1 1 1 1 1 1 1 1 1 1 1 1 1 1 1 1 1 1 1 1 1 0.824 0.824 0.824 0.824 0.824 0.824 1 1 1 1 1 1 0.541 0.541 0.541 0.541 0.541 0.541 0.541 0 0 0 0 0 0 0 0 0 0 0 0 0 0 0 0 0 0 0 0 0 0 0 0 0 0 0 0 0 0 0 0 0 0 0 0 0 0 0 0 0 0 0 0 0 0 0 0 0 0 0 0 0 0 0 0 0 0 0 0 0 0 0 0 0 0 0.431 0.431 0.431 0.431 0.431 0.431 0.431 0.431 0.431 0.431 0.431 0.431 0.431 0.431 0.431 0.431 0.431 0.431 0.431 0.431 0.431 0.431 1 1 1 1 1 1 1 1 1 1 1 1 1 1 1 1 1 1 1 1 1 1 1 1 1 1 1 1 1 1 1 1 1 1 1 1 1 1 1 1 1 1 1 1 1 1 1 1 1 1 1 1 1 1 1 1 1 1 1 1 1 1 1 1 1 1 1 1 1 1 1 1 1 1 1 1 1 1 1 1 1 1 1 1 1 1 1 1 1 1 1 1 1 1 1 0.471 0.471 0.471 0.471 0.471 0.471 0.471 0.471 0.471 0.471 0.471 0.471 0.471 0.471 0.471 0.471 0.471 0.471 0.471 0.471 0.471 0.471 0.471 0.471 0.471 0.471 0.471 0.471"/><feFuncA type="linear" slope="0" intercept="1"/></feComponentTransfer><feComponentTransfer in="V" result="Q"><feFuncR type="discrete" tableValues="0.000 0.000 0.000 0.000 0.000 0.000 0.000 0.000 0.000 0.000 0.000 0.000 0.000 0.000 0.000 0.000 0.000 0.000 0.000 0.000 0.000 0.000 0.000 0.000 0.000 0.000 0.000 0.000 0.000 0.000 0.000 0.000 0.000 0.000 0.000 0.000 0.000 0.000 0.000 0.000 0.000 0.000 0.000 0.000 0.050 0.050 0.050 0.050 0.050 0.050 0.050 0.050 0.050 0.100 0.100 0.100 0.100 0.100 0.100 0.100 0.100 0.100 0.100 0.150 0.150 0.150 0.150 0.150 0.150 0.150 0.150 0.150 0.150 0.150 0.150 0.150 0.200 0.200 0.200 0.200 0.200 0.200 0.200 0.200 0.200 0.200 0.200 0.200 0.200 0.200 0.200 0.250 0.250 0.250 0.250 0.250 0.250 0.250 0.250 0.250 0.250 0.250 0.250 0.250 0.250 0.250 0.250 0.250 0.250 0.250 0.300 0.300 0.300 0.300 0.300 0.300 0.300 0.300 0.300 0.300 0.300 0.300 0.300 0.300 0.300 0.300 0.300 0.300 0.300 0.300 0.300 0.300 0.350 0.350 0.350 0.350 0.350 0.350 0.350 0.350 0.350 0.350 0.350 0.350 0.350 0.350 0.350 0.350 0.350 0.350 0.350 0.350 0.350 0.350 0.350 0.350 0.350 0.350 0.400 0.400 0.400 0.400 0.400 0.400 0.400 0.400 0.400 0.400 0.400 0.400 0.400 0.400 0.400 0.400 0.400 0.400 0.400 0.400 0.400 0.400 0.400 0.400 0.400 0.400 0.400 0.400 0.400 0.400 0.400 0.450 0.450 0.450 0.450 0.450 0.450 0.450 0.450 0.450 0.450 0.450 0.450 0.450 0.450 0.450 0.450 0.450 0.450 0.450 0.450 0.450 0.450 0.450 0.450 0.450 0.450 0.450 0.450 0.450 0.450 0.450 0.450 0.450 0.450 0.450 0.450 0.450 0.450 0.500 0.500 0.500 0.500 0.500 0.500 0.500 0.500 0.500 0.500 0.500 0.500 0.500 0.500 0.500 0.500 0.500 0.500 0.500 0.500 0.500 0.500 0.500 0.500 0.500 0.500 0.500 0.500"/><feFuncG type="discrete" tableValues="0.000 0.000 0.000 0.000 0.000 0.000 0.000 0.000 0.000 0.000 0.000 0.000 0.000 0.000 0.000 0.000 0.000 0.000 0.000 0.000 0.000 0.000 0.000 0.000 0.000 0.000 0.000 0.000 0.000 0.000 0.000 0.000 0.000 0.000 0.000 0.000 0.000 0.000 0.000 0.000 0.000 0.000 0.000 0.000 0.050 0.050 0.050 0.050 0.050 0.050 0.050 0.050 0.050 0.100 0.100 0.100 0.100 0.100 0.100 0.100 0.100 0.100 0.100 0.150 0.150 0.150 0.150 0.150 0.150 0.150 0.150 0.150 0.150 0.150 0.150 0.150 0.200 0.200 0.200 0.200 0.200 0.200 0.200 0.200 0.200 0.200 0.200 0.200 0.200 0.200 0.200 0.250 0.250 0.250 0.250 0.250 0.250 0.250 0.250 0.250 0.250 0.250 0.250 0.250 0.250 0.250 0.250 0.250 0.250 0.250 0.300 0.300 0.300 0.300 0.300 0.300 0.300 0.300 0.300 0.300 0.300 0.300 0.300 0.300 0.300 0.300 0.300 0.300 0.300 0.300 0.300 0.300 0.350 0.350 0.350 0.350 0.350 0.350 0.350 0.350 0.350 0.350 0.350 0.350 0.350 0.350 0.350 0.350 0.350 0.350 0.350 0.350 0.350 0.350 0.350 0.350 0.350 0.350 0.400 0.400 0.400 0.400 0.400 0.400 0.400 0.400 0.400 0.400 0.400 0.400 0.400 0.400 0.400 0.400 0.400 0.400 0.400 0.400 0.400 0.400 0.400 0.400 0.400 0.400 0.400 0.400 0.400 0.400 0.400 0.450 0.450 0.450 0.450 0.450 0.450 0.450 0.450 0.450 0.450 0.450 0.450 0.450 0.450 0.450 0.450 0.450 0.450 0.450 0.450 0.450 0.450 0.450 0.450 0.450 0.450 0.450 0.450 0.450 0.450 0.450 0.450 0.450 0.450 0.450 0.450 0.450 0.450 0.500 0.500 0.500 0.500 0.500 0.500 0.500 0.500 0.500 0.500 0.500 0.500 0.500 0.500 0.500 0.500 0.500 0.500 0.500 0.500 0.500 0.500 0.500 0.500 0.500 0.500 0.500 0.500"/><feFuncB type="discrete" tableValues="0.000 0.000 0.000 0.000 0.000 0.000 0.000 0.000 0.000 0.000 0.000 0.000 0.000 0.000 0.000 0.000 0.000 0.000 0.000 0.000 0.000 0.000 0.000 0.000 0.000 0.000 0.000 0.000 0.000 0.000 0.000 0.000 0.000 0.000 0.000 0.000 0.000 0.000 0.000 0.000 0.000 0.000 0.000 0.000 0.050 0.050 0.050 0.050 0.050 0.050 0.050 0.050 0.050 0.100 0.100 0.100 0.100 0.100 0.100 0.100 0.100 0.100 0.100 0.150 0.150 0.150 0.150 0.150 0.150 0.150 0.150 0.150 0.150 0.150 0.150 0.150 0.200 0.200 0.200 0.200 0.200 0.200 0.200 0.200 0.200 0.200 0.200 0.200 0.200 0.200 0.200 0.250 0.250 0.250 0.250 0.250 0.250 0.250 0.250 0.250 0.250 0.250 0.250 0.250 0.250 0.250 0.250 0.250 0.250 0.250 0.300 0.300 0.300 0.300 0.300 0.300 0.300 0.300 0.300 0.300 0.300 0.300 0.300 0.300 0.300 0.300 0.300 0.300 0.300 0.300 0.300 0.300 0.350 0.350 0.350 0.350 0.350 0.350 0.350 0.350 0.350 0.350 0.350 0.350 0.350 0.350 0.350 0.350 0.350 0.350 0.350 0.350 0.350 0.350 0.350 0.350 0.350 0.350 0.400 0.400 0.400 0.400 0.400 0.400 0.400 0.400 0.400 0.400 0.400 0.400 0.400 0.400 0.400 0.400 0.400 0.400 0.400 0.400 0.400 0.400 0.400 0.400 0.400 0.400 0.400 0.400 0.400 0.400 0.400 0.450 0.450 0.450 0.450 0.450 0.450 0.450 0.450 0.450 0.450 0.450 0.450 0.450 0.450 0.450 0.450 0.450 0.450 0.450 0.450 0.450 0.450 0.450 0.450 0.450 0.450 0.450 0.450 0.450 0.450 0.450 0.450 0.450 0.450 0.450 0.450 0.450 0.450 0.500 0.500 0.500 0.500 0.500 0.500 0.500 0.500 0.500 0.500 0.500 0.500 0.500 0.500 0.500 0.500 0.500 0.500 0.500 0.500 0.500 0.500 0.500 0.500 0.500 0.500 0.500 0.500"/><feFuncA type="linear" slope="0" intercept="1"/></feComponentTransfer><feConvolveMatrix in="Q" order="3" kernelMatrix="0 -1 0 -1 4 -1 0 -1 0" divisor="1" bias="0" preserveAlpha="true" result="D"/><feColorMatrix in="D" type="matrix" values="0 0 0 0 0 0 0 0 0 0 0 0 0 0 0 5 0 0 0 0" result="L"/><feComposite in="L" in2="C" operator="over"/></filter><g transform="rotate(35 345 318)"><g filter="url(#fx3)"><g transform="rotate(-35 345 318)">
<rect x="-100" y="-100" width="900" height="900" fill="#000"/>
<polygon points="281.5,86.0 321.8,86.0 352.0,118.8 344.5,156.6 281.5,156.6" fill="#16ff00"/>
<polygon points="357.1,151.6 432.7,156.6 432.7,287.7 357.1,287.7" fill="#13ff00"/>
<polygon points="105.0,222.2 205.8,217.1 205.8,282.7 105.0,287.7" fill="#18ff00"/>
<polygon points="180.6,194.4 357.1,194.4 357.1,358.3 180.6,358.3" fill="#0fff00"/>
<polygon points="331.9,378.5 483.1,370.9 558.7,433.9 578.9,514.6 483.1,554.9 344.5,554.9 331.9,459.1" fill="#16ff00"/>
<polygon points="213.4,398.6 319.3,403.7 319.3,449.0 213.4,441.5" fill="#13ff00"/>
<polygon points="155.4,81.0 314.2,81.0 296.6,118.8 291.5,151.6 256.2,166.7 226.0,186.9 195.7,202.0 168.0,222.2 140.3,222.2 163.0,181.8 168.0,118.8" fill="#22bf00"/>
<polygon points="170.5,81.0 301.6,81.0 286.5,118.8 281.5,146.5 246.2,159.1 215.9,171.7 180.6,176.8 168.0,144.0 173.1,106.2" fill="#30cc00"/>
<polygon points="200.8,81.0 291.5,81.0 281.5,113.8 276.4,139.0 246.2,144.0 221.0,136.5 203.3,111.2" fill="#648c00"/>
<ellipse cx="215.9" cy="106.2" rx="10.1" ry="15.1" transform="rotate(0 215.9 106.2)" fill="#ad8c00"/>
<ellipse cx="256.2" cy="96.1" rx="20.2" ry="10.1" transform="rotate(0 256.2 96.1)" fill="#ad8c00"/>
<ellipse cx="223.5" cy="136.5" rx="7.6" ry="5.0" transform="rotate(0 223.5 136.5)" fill="#ad8c00"/>
<ellipse cx="268.9" cy="131.4" rx="10.1" ry="7.6" transform="rotate(0 268.9 131.4)" fill="#908c00"/>
<ellipse cx="195.7" cy="159.1" rx="15.1" ry="5.0" transform="rotate(20 195.7 159.1)" fill="#648c00"/>
<ellipse cx="180.6" cy="131.4" rx="5.0" ry="3.8" transform="rotate(20 180.6 131.4)" fill="#648c00"/>
<ellipse cx="210.9" cy="156.6" rx="7.6" ry="3.8" transform="rotate(20 210.9 156.6)" fill="#788c00"/>
<ellipse cx="246.2" cy="151.6" rx="7.6" ry="3.8" transform="rotate(20 246.2 151.6)" fill="#538c00"/>
<ellipse cx="180.6" cy="189.4" rx="5.0" ry="2.5" transform="rotate(20 180.6 189.4)" fill="#538c00"/>
<ellipse cx="309.2" cy="103.7" rx="17.6" ry="10.1" transform="rotate(20 309.2 103.7)" fill="#30cc00"/>
<ellipse cx="324.3" cy="133.9" rx="12.6" ry="6.3" transform="rotate(20 324.3 133.9)" fill="#28cc00"/>
<ellipse cx="152.9" cy="244.9" rx="22.7" ry="10.1" transform="rotate(5 152.9 244.9)" fill="#30cc00"/>
<ellipse cx="125.2" cy="272.6" rx="10.1" ry="6.3" transform="rotate(30 125.2 272.6)" fill="#30cc00"/>
<polygon points="420.1,156.6 463.0,161.7 465.5,191.9 422.6,191.9" fill="#22bf00"/>
<ellipse cx="450.3" cy="169.2" rx="11.3" ry="7.6" transform="rotate(30 450.3 169.2)" fill="#908c00"/>
<polygon points="432.7,212.1 463.0,186.9 533.5,237.3 538.6,408.7 528.5,413.7 470.5,396.1 420.1,373.4 415.1,320.5 422.6,282.7 432.7,244.9" fill="#22bf00"/>
<polygon points="452.9,244.9 478.1,199.5 533.5,237.3 538.6,403.7 495.7,396.1 452.9,370.9 432.7,333.1 437.7,295.3" fill="#3acc00"/>
<polygon points="470.5,262.5 493.2,222.2 533.5,237.3 538.6,398.6 498.2,391.1 463.0,353.2 452.9,307.9" fill="#648c00"/>
<polygon points="493.2,237.3 531.0,237.3 528.5,295.3 508.3,307.9 493.2,282.7" fill="#ad8c00"/>
<polygon points="457.9,292.7 508.3,295.3 518.4,323.0 498.2,333.1 463.0,323.0" fill="#908c00"/>
<ellipse cx="493.2" cy="315.4" rx="4.5" ry="3.5" transform="rotate(0 493.2 315.4)" fill="#d08c00"/>
<ellipse cx="520.9" cy="267.5" rx="7.6" ry="15.1" transform="rotate(0 520.9 267.5)" fill="#ad8c00"/>
<ellipse cx="520.9" cy="358.3" rx="10.1" ry="15.1" transform="rotate(0 520.9 358.3)" fill="#908c00"/>
<ellipse cx="498.2" cy="370.9" rx="7.6" ry="5.0" transform="rotate(0 498.2 370.9)" fill="#30cc00"/>
<ellipse cx="394.9" cy="408.7" rx="37.8" ry="12.6" transform="rotate(20 394.9 408.7)" fill="#30cc00"/>
<ellipse cx="402.5" cy="408.7" rx="7.6" ry="3.0" transform="rotate(20 402.5 408.7)" fill="#538c00"/>
<ellipse cx="417.6" cy="444.0" rx="27.7" ry="7.6" transform="rotate(-20 417.6 444.0)" fill="#30cc00"/>
<ellipse cx="415.1" cy="444.0" rx="7.6" ry="2.5" transform="rotate(-20 415.1 444.0)" fill="#538c00"/>
<ellipse cx="410.0" cy="466.7" rx="22.7" ry="7.6" transform="rotate(-20 410.0 466.7)" fill="#30cc00"/>
<ellipse cx="410.0" cy="466.7" rx="5.0" ry="2.0" transform="rotate(-20 410.0 466.7)" fill="#648c00"/>
<ellipse cx="382.3" cy="507.0" rx="22.7" ry="12.6" transform="rotate(-30 382.3 507.0)" fill="#30cc00"/>
<ellipse cx="379.8" cy="507.0" rx="7.6" ry="2.5" transform="rotate(-30 379.8 507.0)" fill="#538c00"/>
<ellipse cx="357.1" cy="534.7" rx="15.1" ry="15.1" transform="rotate(0 357.1 534.7)" fill="#28cc00"/>
<ellipse cx="463.0" cy="393.6" rx="32.8" ry="6.3" transform="rotate(20 463.0 393.6)" fill="#30cc00"/>
<ellipse cx="470.5" cy="396.1" rx="10.1" ry="2.0" transform="rotate(20 470.5 396.1)" fill="#46cc00"/>
<ellipse cx="531.0" cy="469.2" rx="25.2" ry="6.3" transform="rotate(60 531.0 469.2)" fill="#30cc00"/>
<ellipse cx="531.0" cy="469.2" rx="6.3" ry="2.0" transform="rotate(60 531.0 469.2)" fill="#648c00"/>
<ellipse cx="291.5" cy="433.9" rx="10.1" ry="10.1" transform="rotate(30 291.5 433.9)" fill="#28cc00"/>
<ellipse cx="291.5" cy="433.9" rx="2.5" ry="2.0" transform="rotate(30 291.5 433.9)" fill="#648c00"/>
<ellipse cx="256.2" cy="413.7" rx="12.6" ry="6.3" transform="rotate(40 256.2 413.7)" fill="#28cc00"/>
</g></g></g></g>
<polygon points="551.1,243.2 555.2,244.0 559.2,245.6 562.5,244.8 562.5,251.3 560.9,259.5 560.1,267.7 559.0,275.0 557.0,279.0 551.0,279.5 549.4,274.0 547.8,269.3 546.2,266.1 548.2,261.2 547.8,253.0 550.2,247.3" fill="#111"/><polygon points="532.3,281.6 538.8,281.6 541.3,285.7 540.4,292.2 543.7,298.8 547.0,302.0 549.4,310.2 546.2,313.5 547.8,321.7 543.7,323.3 540.4,316.7 536.3,313.5 530.6,308.6 528.2,300.4 529.0,295.5 530.6,288.1" fill="#2a2a2a"/><polygon points="562.5,363.3 563.3,367.4 560.9,378.1 556.0,382.1 551.1,378.9 547.0,375.6 544.5,375.6 548.6,374.0 555.2,369.9 559.2,365.8" fill="#111"/>
<use href="#grid"/>
<use href="#outline"/>
<rect x="105.6" y="81.4" width="479.4" height="472.9" fill="none" stroke="#000" stroke-width="2.5"/>
<text x="105.8" y="62.9" font-size="42.8">(d) WSM6</text>
<text x="90.4" y="172.7" font-size="31" text-anchor="end">3°S</text>
<text x="90.4" y="302.3" font-size="31" text-anchor="end">6°S</text>
<text x="90.4" y="431.8" font-size="31" text-anchor="end">9°S</text>
<text x="90.4" y="561.5" font-size="31" text-anchor="end">12°S</text>
<text x="233.6" y="593.7" font-size="31" text-anchor="middle">32.3°E</text>
<text x="363.5" y="593.7" font-size="31" text-anchor="middle">35.3°E</text>
<text x="493.3" y="593.7" font-size="31" text-anchor="middle">38.3°E</text>
</g>
<g transform="translate(577.0,721.0)">
<g clip-path="url(#land)"><filter id="fx4" filterUnits="userSpaceOnUse" x="-400" y="-400" width="1600" height="1600" color-interpolation-filters="sRGB"><feGaussianBlur in="SourceGraphic" stdDeviation="4" result="B"/><feColorMatrix in="B" type="matrix" values="1 0 0 0 0 1 0 0 0 0 1 0 0 0 0 0 0 0 0 1" result="F"/><feColorMatrix in="B" type="matrix" values="0 1 0 0 0 0 1 0 0 0 0 1 0 0 0 0 0 0 0 1" result="A"/><feTurbulence type="fractalNoise" baseFrequency="0.04 0.12" numOctaves="3" seed="31" result="N"/><feColorMatrix in="N" type="matrix" values="1 0 0 0 0 1 0 0 0 0 1 0 0 0 0 0 0 0 0 1" result="N1"/><feComposite in="A" in2="N1" operator="arithmetic" k1="1" k2="-0.5" k3="0" k4="0.5" result="M"/><feComposite in="F" in2="M" operator="arithmetic" k1="2.4" k2="-0.2" k3="0" k4="0" result="V"/><feComponentTransfer in="V" result="C"><feFuncR type="discrete" tableValues="1 1 1 1 1 1 1 1 1 1 1 1 1 1 1 1 1 1 1 1 1 1 1 1 1 0.306 0.306 0.306 0.306 0.306 0.306 0 0 0 0 0 0 0 0 0 0 0 0 0 0 0 0 0 0 0 0 0 0 0.502 0.502 0.502 0.502 0.502 0.502 0.502 0.502 0.502 0.502 1 1 1 1 1 1 1 1 1 1 1 1 1 1 1 1 1 1 1 1 1 1 1 1 1 1 1 1 1 1 1 1 1 1 1 1 1 1 1 1 1 1 1 1 1 1 1 1 1 1 1 1 1 1 1 1 1 1 1 1 1 1 1 1 1 1 1 1 1 0.941 0.941 0.941 0.941 0.941 0.941 0.941 0.941 0.941 0.941 0.941 0.941 0.941 0.941 0.941 0.941 0.941 0.941 0.941 0.941 0.941 0.941 0.941 0.941 0.941 0.941 0.502 0.502 0.502 0.502 0.502 0.502 0.502 0.502 0.502 0.502 0.502 0.502 0.502 0.502 0.502 0.502 0.502 0.502 0.502 0.502 0.502 0.502 0.502 0.502 0.502 0.502 0.502 0.502 0.502 0.502 0.502 0.235 0.235 0.235 0.235 0.235 0.235 0.235 0.235 0.235 0.235 0.235 0.235 0.235 0.235 0.235 0.235 0.235 0.235 0.235 0.235 0.235 0.235 0.235 0.235 0.235 0.235 0.235 0.235 0.235 0.235 0.235 0.235 0.235 0.235 0.235 0.235 0.235 0.235 0.118 0.118 0.118 0.118 0.118 0.118 0.118 0.118 0.118 0.118 0.118 0.118 0.118 0.118 0.118 0.118 0.118 0.118 0.118 0.118 0.118 0.118 0.118 0.118 0.118 0.118 0.118 0.118"/><feFuncG type="discrete" tableValues="1 1 1 1 1 1 1 1 1 1 1 1 1 1 1 1 1 1 1 1 1 1 1 1 1 0.812 0.812 0.812 0.812 0.812 0.812 1 1 1 1 1 1 0.851 0.851 0.851 0.851 0.851 0.851 0.851 0.753 0.753 0.753 0.753 0.753 0.753 0.753 0.753 0.753 0.847 0.847 0.847 0.847 0.847 0.847 0.847 0.847 0.847 0.847 1 1 1 1 1 1 1 1 1 1 1 1 1 0.624 0.624 0.624 0.624 0.624 0.624 0.624 0.624 0.624 0.624 0.624 0.624 0.624 0.624 0.624 0 0 0 0 0 0 0 0 0 0 0 0 0 0 0 0 0 0 0 0.102 0.102 0.102 0.102 0.102 0.102 0.102 0.102 0.102 0.102 0.102 0.102 0.102 0.102 0.102 0.102 0.102 0.102 0.102 0.102 0.102 0.102 0.251 0.251 0.251 0.251 0.251 0.251 0.251 0.251 0.251 0.251 0.251 0.251 0.251 0.251 0.251 0.251 0.251 0.251 0.251 0.251 0.251 0.251 0.251 0.251 0.251 0.251 0.125 0.125 0.125 0.125 0.125 0.125 0.125 0.125 0.125 0.125 0.125 0.125 0.125 0.125 0.125 0.125 0.125 0.125 0.125 0.125 0.125 0.125 0.125 0.125 0.125 0.125 0.125 0.125 0.125 0.125 0.125 0.235 0.235 0.235 0.235 0.235 0.235 0.235 0.235 0.235 0.235 0.235 0.235 0.235 0.235 0.235 0.235 0.235 0.235 0.235 0.235 0.235 0.235 0.235 0.235 0.235 0.235 0.235 0.235 0.235 0.235 0.235 0.235 0.235 0.235 0.235 0.235 0.235 0.235 0.118 0.118 0.118 0.118 0.118 0.118 0.118 0.118 0.118 0.118 0.118 0.118 0.118 0.118 0.118 0.118 0.118 0.118 0.118 0.118 0.118 0.118 0.118 0.118 0.118 0.118 0.118 0.118"/><feFuncB type="discrete" tableValues="1 1 1 1 1 1 1 1 1 1 1 1 1 1 1 1 1 1 1 1 1 1 1 1 1 0.824 0.824 0.824 0.824 0.824 0.824 1 1 1 1 1 1 0.541 0.541 0.541 0.541 0.541 0.541 0.541 0 0 0 0 0 0 0 0 0 0 0 0 0 0 0 0 0 0 0 0 0 0 0 0 0 0 0 0 0 0 0 0 0 0 0 0 0 0 0 0 0 0 0 0 0 0 0 0 0 0 0 0 0 0 0 0 0 0 0 0 0 0 0 0 0 0 0.431 0.431 0.431 0.431 0.431 0.431 0.431 0.431 0.431 0.431 0.431 0.431 0.431 0.431 0.431 0.431 0.431 0.431 0.431 0.431 0.431 0.431 1 1 1 1 1 1 1 1 1 1 1 1 1 1 1 1 1 1 1 1 1 1 1 1 1 1 1 1 1 1 1 1 1 1 1 1 1 1 1 1 1 1 1 1 1 1 1 1 1 1 1 1 1 1 1 1 1 1 1 1 1 1 1 1 1 1 1 1 1 1 1 1 1 1 1 1 1 1 1 1 1 1 1 1 1 1 1 1 1 1 1 1 1 1 1 0.471 0.471 0.471 0.471 0.471 0.471 0.471 0.471 0.471 0.471 0.471 0.471 0.471 0.471 0.471 0.471 0.471 0.471 0.471 0.471 0.471 0.471 0.471 0.471 0.471 0.471 0.471 0.471"/><feFuncA type="linear" slope="0" intercept="1"/></feComponentTransfer><feComponentTransfer in="V" result="Q"><feFuncR type="discrete" tableValues="0.000 0.000 0.000 0.000 0.000 0.000 0.000 0.000 0.000 0.000 0.000 0.000 0.000 0.000 0.000 0.000 0.000 0.000 0.000 0.000 0.000 0.000 0.000 0.000 0.000 0.000 0.000 0.000 0.000 0.000 0.000 0.000 0.000 0.000 0.000 0.000 0.000 0.000 0.000 0.000 0.000 0.000 0.000 0.000 0.050 0.050 0.050 0.050 0.050 0.050 0.050 0.050 0.050 0.100 0.100 0.100 0.100 0.100 0.100 0.100 0.100 0.100 0.100 0.150 0.150 0.150 0.150 0.150 0.150 0.150 0.150 0.150 0.150 0.150 0.150 0.150 0.200 0.200 0.200 0.200 0.200 0.200 0.200 0.200 0.200 0.200 0.200 0.200 0.200 0.200 0.200 0.250 0.250 0.250 0.250 0.250 0.250 0.250 0.250 0.250 0.250 0.250 0.250 0.250 0.250 0.250 0.250 0.250 0.250 0.250 0.300 0.300 0.300 0.300 0.300 0.300 0.300 0.300 0.300 0.300 0.300 0.300 0.300 0.300 0.300 0.300 0.300 0.300 0.300 0.300 0.300 0.300 0.350 0.350 0.350 0.350 0.350 0.350 0.350 0.350 0.350 0.350 0.350 0.350 0.350 0.350 0.350 0.350 0.350 0.350 0.350 0.350 0.350 0.350 0.350 0.350 0.350 0.350 0.400 0.400 0.400 0.400 0.400 0.400 0.400 0.400 0.400 0.400 0.400 0.400 0.400 0.400 0.400 0.400 0.400 0.400 0.400 0.400 0.400 0.400 0.400 0.400 0.400 0.400 0.400 0.400 0.400 0.400 0.400 0.450 0.450 0.450 0.450 0.450 0.450 0.450 0.450 0.450 0.450 0.450 0.450 0.450 0.450 0.450 0.450 0.450 0.450 0.450 0.450 0.450 0.450 0.450 0.450 0.450 0.450 0.450 0.450 0.450 0.450 0.450 0.450 0.450 0.450 0.450 0.450 0.450 0.450 0.500 0.500 0.500 0.500 0.500 0.500 0.500 0.500 0.500 0.500 0.500 0.500 0.500 0.500 0.500 0.500 0.500 0.500 0.500 0.500 0.500 0.500 0.500 0.500 0.500 0.500 0.500 0.500"/><feFuncG type="discrete" tableValues="0.000 0.000 0.000 0.000 0.000 0.000 0.000 0.000 0.000 0.000 0.000 0.000 0.000 0.000 0.000 0.000 0.000 0.000 0.000 0.000 0.000 0.000 0.000 0.000 0.000 0.000 0.000 0.000 0.000 0.000 0.000 0.000 0.000 0.000 0.000 0.000 0.000 0.000 0.000 0.000 0.000 0.000 0.000 0.000 0.050 0.050 0.050 0.050 0.050 0.050 0.050 0.050 0.050 0.100 0.100 0.100 0.100 0.100 0.100 0.100 0.100 0.100 0.100 0.150 0.150 0.150 0.150 0.150 0.150 0.150 0.150 0.150 0.150 0.150 0.150 0.150 0.200 0.200 0.200 0.200 0.200 0.200 0.200 0.200 0.200 0.200 0.200 0.200 0.200 0.200 0.200 0.250 0.250 0.250 0.250 0.250 0.250 0.250 0.250 0.250 0.250 0.250 0.250 0.250 0.250 0.250 0.250 0.250 0.250 0.250 0.300 0.300 0.300 0.300 0.300 0.300 0.300 0.300 0.300 0.300 0.300 0.300 0.300 0.300 0.300 0.300 0.300 0.300 0.300 0.300 0.300 0.300 0.350 0.350 0.350 0.350 0.350 0.350 0.350 0.350 0.350 0.350 0.350 0.350 0.350 0.350 0.350 0.350 0.350 0.350 0.350 0.350 0.350 0.350 0.350 0.350 0.350 0.350 0.400 0.400 0.400 0.400 0.400 0.400 0.400 0.400 0.400 0.400 0.400 0.400 0.400 0.400 0.400 0.400 0.400 0.400 0.400 0.400 0.400 0.400 0.400 0.400 0.400 0.400 0.400 0.400 0.400 0.400 0.400 0.450 0.450 0.450 0.450 0.450 0.450 0.450 0.450 0.450 0.450 0.450 0.450 0.450 0.450 0.450 0.450 0.450 0.450 0.450 0.450 0.450 0.450 0.450 0.450 0.450 0.450 0.450 0.450 0.450 0.450 0.450 0.450 0.450 0.450 0.450 0.450 0.450 0.450 0.500 0.500 0.500 0.500 0.500 0.500 0.500 0.500 0.500 0.500 0.500 0.500 0.500 0.500 0.500 0.500 0.500 0.500 0.500 0.500 0.500 0.500 0.500 0.500 0.500 0.500 0.500 0.500"/><feFuncB type="discrete" tableValues="0.000 0.000 0.000 0.000 0.000 0.000 0.000 0.000 0.000 0.000 0.000 0.000 0.000 0.000 0.000 0.000 0.000 0.000 0.000 0.000 0.000 0.000 0.000 0.000 0.000 0.000 0.000 0.000 0.000 0.000 0.000 0.000 0.000 0.000 0.000 0.000 0.000 0.000 0.000 0.000 0.000 0.000 0.000 0.000 0.050 0.050 0.050 0.050 0.050 0.050 0.050 0.050 0.050 0.100 0.100 0.100 0.100 0.100 0.100 0.100 0.100 0.100 0.100 0.150 0.150 0.150 0.150 0.150 0.150 0.150 0.150 0.150 0.150 0.150 0.150 0.150 0.200 0.200 0.200 0.200 0.200 0.200 0.200 0.200 0.200 0.200 0.200 0.200 0.200 0.200 0.200 0.250 0.250 0.250 0.250 0.250 0.250 0.250 0.250 0.250 0.250 0.250 0.250 0.250 0.250 0.250 0.250 0.250 0.250 0.250 0.300 0.300 0.300 0.300 0.300 0.300 0.300 0.300 0.300 0.300 0.300 0.300 0.300 0.300 0.300 0.300 0.300 0.300 0.300 0.300 0.300 0.300 0.350 0.350 0.350 0.350 0.350 0.350 0.350 0.350 0.350 0.350 0.350 0.350 0.350 0.350 0.350 0.350 0.350 0.350 0.350 0.350 0.350 0.350 0.350 0.350 0.350 0.350 0.400 0.400 0.400 0.400 0.400 0.400 0.400 0.400 0.400 0.400 0.400 0.400 0.400 0.400 0.400 0.400 0.400 0.400 0.400 0.400 0.400 0.400 0.400 0.400 0.400 0.400 0.400 0.400 0.400 0.400 0.400 0.450 0.450 0.450 0.450 0.450 0.450 0.450 0.450 0.450 0.450 0.450 0.450 0.450 0.450 0.450 0.450 0.450 0.450 0.450 0.450 0.450 0.450 0.450 0.450 0.450 0.450 0.450 0.450 0.450 0.450 0.450 0.450 0.450 0.450 0.450 0.450 0.450 0.450 0.500 0.500 0.500 0.500 0.500 0.500 0.500 0.500 0.500 0.500 0.500 0.500 0.500 0.500 0.500 0.500 0.500 0.500 0.500 0.500 0.500 0.500 0.500 0.500 0.500 0.500 0.500 0.500"/><feFuncA type="linear" slope="0" intercept="1"/></feComponentTransfer><feConvolveMatrix in="Q" order="3" kernelMatrix="0 -1 0 -1 4 -1 0 -1 0" divisor="1" bias="0" preserveAlpha="true" result="D"/><feColorMatrix in="D" type="matrix" values="0 0 0 0 0 0 0 0 0 0 0 0 0 0 0 5 0 0 0 0" result="L"/><feComposite in="L" in2="C" operator="over"/></filter><g transform="rotate(30 345 318)"><g filter="url(#fx4)"><g transform="rotate(-30 345 318)">
<rect x="-100" y="-100" width="900" height="900" fill="#000"/>
<polygon points="231.0,199.5 369.7,199.5 369.7,244.9 231.0,244.9" fill="#15ff00"/>
<polygon points="105.0,222.2 180.6,222.2 205.8,333.1 105.0,333.1" fill="#16ff00"/>
<polygon points="205.8,244.9 357.1,244.9 357.1,370.9 205.8,370.9" fill="#10ff00"/>
<polygon points="150.4,365.9 281.5,383.5 281.5,423.8 150.4,408.7" fill="#15ff00"/>
<polygon points="336.9,396.1 483.1,396.1 571.3,433.9 578.9,524.7 483.1,554.9 344.5,554.9 336.9,459.1" fill="#16ff00"/>
<polygon points="357.1,194.4 432.7,207.0 432.7,358.3 357.1,358.3" fill="#15ff00"/>
<polygon points="155.4,81.0 352.0,81.0 349.5,131.4 319.3,156.6 268.9,164.2 231.0,176.8 205.8,202.0 150.4,202.0 163.0,156.6 168.0,118.8" fill="#22bf00"/>
<polygon points="231.0,86.0 331.9,86.0 331.9,131.4 281.5,146.5 236.1,131.4" fill="#1e6600"/>
<ellipse cx="256.2" cy="136.5" rx="15.1" ry="6.3" transform="rotate(0 256.2 136.5)" fill="#00ff00"/>
<ellipse cx="301.6" cy="123.9" rx="10.1" ry="7.6" transform="rotate(0 301.6 123.9)" fill="#00ff00"/>
<polygon points="170.5,81.0 246.2,81.0 241.1,131.4 236.1,176.8 205.8,181.8 180.6,156.6 173.1,118.8" fill="#3acc00"/>
<polygon points="200.8,81.0 241.1,81.0 236.1,141.5 210.9,146.5 200.8,111.2" fill="#648c00"/>
<ellipse cx="221.0" cy="108.7" rx="12.6" ry="25.2" transform="rotate(0 221.0 108.7)" fill="#ad8c00"/>
<ellipse cx="219.7" cy="108.7" rx="3.8" ry="3.8" transform="rotate(0 219.7 108.7)" fill="#ff8c00"/>
<polygon points="256.2,81.0 319.3,81.0 311.7,111.2 281.5,121.3 256.2,106.2" fill="#538c00"/>
<ellipse cx="281.5" cy="93.6" rx="20.2" ry="10.1" transform="rotate(0 281.5 93.6)" fill="#788c00"/>
<ellipse cx="205.8" cy="166.7" rx="7.6" ry="6.3" transform="rotate(20 205.8 166.7)" fill="#648c00"/>
<ellipse cx="178.1" cy="185.6" rx="8.8" ry="3.8" transform="rotate(20 178.1 185.6)" fill="#648c00"/>
<ellipse cx="306.7" cy="151.6" rx="7.6" ry="3.8" transform="rotate(20 306.7 151.6)" fill="#538c00"/>
<ellipse cx="142.8" cy="237.3" rx="30.2" ry="12.6" transform="rotate(0 142.8 237.3)" fill="#28cc00"/>
<ellipse cx="342.0" cy="283.9" rx="17.6" ry="10.1" transform="rotate(0 342.0 283.9)" fill="#28cc00"/>
<ellipse cx="344.5" cy="285.2" rx="5.0" ry="3.8" transform="rotate(0 344.5 285.2)" fill="#648c00"/>
<ellipse cx="394.9" cy="323.0" rx="12.6" ry="10.1" transform="rotate(0 394.9 323.0)" fill="#30cc00"/>
<ellipse cx="394.9" cy="323.0" rx="3.8" ry="3.0" transform="rotate(0 394.9 323.0)" fill="#648c00"/>
<ellipse cx="231.0" cy="406.2" rx="32.8" ry="11.3" transform="rotate(20 231.0 406.2)" fill="#28cc00"/>
<polygon points="369.7,139.0 463.0,161.7 465.5,207.0 382.3,207.0" fill="#22bf00"/>
<ellipse cx="452.9" cy="169.2" rx="12.6" ry="10.1" transform="rotate(30 452.9 169.2)" fill="#788c00"/>
<ellipse cx="412.5" cy="186.9" rx="5.0" ry="3.8" transform="rotate(0 412.5 186.9)" fill="#648c00"/>
<polygon points="432.7,202.0 483.1,202.0 488.2,244.9 432.7,244.9" fill="#22bf00"/>
<polygon points="432.7,237.3 470.5,202.0 533.5,237.3 541.1,428.9 520.9,433.9 470.5,396.1 420.1,370.9 415.1,320.5 427.7,282.7" fill="#22bf00"/>
<polygon points="452.9,257.5 483.1,212.1 533.5,237.3 538.6,408.7 495.7,383.5 445.3,358.3 425.1,333.1 437.7,295.3" fill="#3acc00"/>
<polygon points="475.6,277.6 493.2,227.2 533.5,237.3 538.6,396.1 498.2,370.9 452.9,345.7 432.7,320.5 457.9,295.3" fill="#648c00"/>
<polygon points="498.2,237.3 531.0,237.3 528.5,300.3 518.4,333.1 493.2,328.0 498.2,282.7" fill="#ad8c00"/>
<ellipse cx="478.1" cy="323.0" rx="22.7" ry="10.1" transform="rotate(20 478.1 323.0)" fill="#908c00"/>
<ellipse cx="508.3" cy="353.2" rx="17.6" ry="10.1" transform="rotate(20 508.3 353.2)" fill="#908c00"/>
<ellipse cx="513.4" cy="396.1" rx="27.7" ry="6.3" transform="rotate(40 513.4 396.1)" fill="#3acc00"/>
<ellipse cx="528.5" cy="403.7" rx="10.1" ry="2.5" transform="rotate(40 528.5 403.7)" fill="#648c00"/>
<ellipse cx="387.3" cy="433.9" rx="32.8" ry="10.1" transform="rotate(10 387.3 433.9)" fill="#28cc00"/>
<ellipse cx="394.9" cy="465.4" rx="22.7" ry="4.5" transform="rotate(-20 394.9 465.4)" fill="#30cc00"/>
<ellipse cx="394.9" cy="465.4" rx="7.6" ry="1.8" transform="rotate(-20 394.9 465.4)" fill="#648c00"/>
<ellipse cx="379.8" cy="494.4" rx="22.7" ry="12.6" transform="rotate(-25 379.8 494.4)" fill="#30cc00"/>
<ellipse cx="382.3" cy="489.4" rx="6.3" ry="2.0" transform="rotate(-25 382.3 489.4)" fill="#648c00"/>
<ellipse cx="407.5" cy="406.2" rx="25.2" ry="7.6" transform="rotate(15 407.5 406.2)" fill="#30cc00"/>
<ellipse cx="399.9" cy="403.7" rx="7.6" ry="2.5" transform="rotate(15 399.9 403.7)" fill="#46cc00"/>
<ellipse cx="407.5" cy="539.8" rx="63.0" ry="12.6" transform="rotate(0 407.5 539.8)" fill="#28cc00"/>
<ellipse cx="533.5" cy="479.3" rx="37.8" ry="10.1" transform="rotate(60 533.5 479.3)" fill="#28cc00"/>
</g></g></g></g>
<polygon points="551.1,243.2 555.2,244.0 559.2,245.6 562.5,244.8 562.5,251.3 560.9,259.5 560.1,267.7 559.0,275.0 557.0,279.0 551.0,279.5 549.4,274.0 547.8,269.3 546.2,266.1 548.2,261.2 547.8,253.0 550.2,247.3" fill="#111"/><polygon points="532.3,281.6 538.8,281.6 541.3,285.7 540.4,292.2 543.7,298.8 547.0,302.0 549.4,310.2 546.2,313.5 547.8,321.7 543.7,323.3 540.4,316.7 536.3,313.5 530.6,308.6 528.2,300.4 529.0,295.5 530.6,288.1" fill="#2a2a2a"/><polygon points="562.5,363.3 563.3,367.4 560.9,378.1 556.0,382.1 551.1,378.9 547.0,375.6 544.5,375.6 548.6,374.0 555.2,369.9 559.2,365.8" fill="#111"/>
<use href="#grid"/>
<use href="#outline"/>
<rect x="105.6" y="81.4" width="479.4" height="472.9" fill="none" stroke="#000" stroke-width="2.5"/>
<text x="105.8" y="62.9" font-size="42.8">(e) Thompson</text>
<text x="90.4" y="172.7" font-size="31" text-anchor="end">3°S</text>
<text x="90.4" y="302.3" font-size="31" text-anchor="end">6°S</text>
<text x="90.4" y="431.8" font-size="31" text-anchor="end">9°S</text>
<text x="90.4" y="561.5" font-size="31" text-anchor="end">12°S</text>
<text x="233.6" y="593.7" font-size="31" text-anchor="middle">32.3°E</text>
<text x="363.5" y="593.7" font-size="31" text-anchor="middle">35.3°E</text>
<text x="493.3" y="593.7" font-size="31" text-anchor="middle">38.3°E</text>
</g>
<g transform="translate(1153.7,721.0)">
<g clip-path="url(#land)"><filter id="fx5" filterUnits="userSpaceOnUse" x="-400" y="-400" width="1600" height="1600" color-interpolation-filters="sRGB"><feGaussianBlur in="SourceGraphic" stdDeviation="4" result="B"/><feColorMatrix in="B" type="matrix" values="1 0 0 0 0 1 0 0 0 0 1 0 0 0 0 0 0 0 0 1" result="F"/><feColorMatrix in="B" type="matrix" values="0 1 0 0 0 0 1 0 0 0 0 1 0 0 0 0 0 0 0 1" result="A"/><feTurbulence type="fractalNoise" baseFrequency="0.04 0.12" numOctaves="3" seed="43" result="N"/><feColorMatrix in="N" type="matrix" values="1 0 0 0 0 1 0 0 0 0 1 0 0 0 0 0 0 0 0 1" result="N1"/><feComposite in="A" in2="N1" operator="arithmetic" k1="1" k2="-0.5" k3="0" k4="0.5" result="M"/><feComposite in="F" in2="M" operator="arithmetic" k1="2.4" k2="-0.2" k3="0" k4="0" result="V"/><feComponentTransfer in="V" result="C"><feFuncR type="discrete" tableValues="1 1 1 1 1 1 1 1 1 1 1 1 1 1 1 1 1 1 1 1 1 1 1 1 1 0.306 0.306 0.306 0.306 0.306 0.306 0 0 0 0 0 0 0 0 0 0 0 0 0 0 0 0 0 0 0 0 0 0 0.502 0.502 0.502 0.502 0.502 0.502 0.502 0.502 0.502 0.502 1 1 1 1 1 1 1 1 1 1 1 1 1 1 1 1 1 1 1 1 1 1 1 1 1 1 1 1 1 1 1 1 1 1 1 1 1 1 1 1 1 1 1 1 1 1 1 1 1 1 1 1 1 1 1 1 1 1 1 1 1 1 1 1 1 1 1 1 1 0.941 0.941 0.941 0.941 0.941 0.941 0.941 0.941 0.941 0.941 0.941 0.941 0.941 0.941 0.941 0.941 0.941 0.941 0.941 0.941 0.941 0.941 0.941 0.941 0.941 0.941 0.502 0.502 0.502 0.502 0.502 0.502 0.502 0.502 0.502 0.502 0.502 0.502 0.502 0.502 0.502 0.502 0.502 0.502 0.502 0.502 0.502 0.502 0.502 0.502 0.502 0.502 0.502 0.502 0.502 0.502 0.502 0.235 0.235 0.235 0.235 0.235 0.235 0.235 0.235 0.235 0.235 0.235 0.235 0.235 0.235 0.235 0.235 0.235 0.235 0.235 0.235 0.235 0.235 0.235 0.235 0.235 0.235 0.235 0.235 0.235 0.235 0.235 0.235 0.235 0.235 0.235 0.235 0.235 0.235 0.118 0.118 0.118 0.118 0.118 0.118 0.118 0.118 0.118 0.118 0.118 0.118 0.118 0.118 0.118 0.118 0.118 0.118 0.118 0.118 0.118 0.118 0.118 0.118 0.118 0.118 0.118 0.118"/><feFuncG type="discrete" tableValues="1 1 1 1 1 1 1 1 1 1 1 1 1 1 1 1 1 1 1 1 1 1 1 1 1 0.812 0.812 0.812 0.812 0.812 0.812 1 1 1 1 1 1 0.851 0.851 0.851 0.851 0.851 0.851 0.851 0.753 0.753 0.753 0.753 0.753 0.753 0.753 0.753 0.753 0.847 0.847 0.847 0.847 0.847 0.847 0.847 0.847 0.847 0.847 1 1 1 1 1 1 1 1 1 1 1 1 1 0.624 0.624 0.624 0.624 0.624 0.624 0.624 0.624 0.624 0.624 0.624 0.624 0.624 0.624 0.624 0 0 0 0 0 0 0 0 0 0 0 0 0 0 0 0 0 0 0 0.102 0.102 0.102 0.102 0.102 0.102 0.102 0.102 0.102 0.102 0.102 0.102 0.102 0.102 0.102 0.102 0.102 0.102 0.102 0.102 0.102 0.102 0.251 0.251 0.251 0.251 0.251 0.251 0.251 0.251 0.251 0.251 0.251 0.251 0.251 0.251 0.251 0.251 0.251 0.251 0.251 0.251 0.251 0.251 0.251 0.251 0.251 0.251 0.125 0.125 0.125 0.125 0.125 0.125 0.125 0.125 0.125 0.125 0.125 0.125 0.125 0.125 0.125 0.125 0.125 0.125 0.125 0.125 0.125 0.125 0.125 0.125 0.125 0.125 0.125 0.125 0.125 0.125 0.125 0.235 0.235 0.235 0.235 0.235 0.235 0.235 0.235 0.235 0.235 0.235 0.235 0.235 0.235 0.235 0.235 0.235 0.235 0.235 0.235 0.235 0.235 0.235 0.235 0.235 0.235 0.235 0.235 0.235 0.235 0.235 0.235 0.235 0.235 0.235 0.235 0.235 0.235 0.118 0.118 0.118 0.118 0.118 0.118 0.118 0.118 0.118 0.118 0.118 0.118 0.118 0.118 0.118 0.118 0.118 0.118 0.118 0.118 0.118 0.118 0.118 0.118 0.118 0.118 0.118 0.118"/><feFuncB type="discrete" tableValues="1 1 1 1 1 1 1 1 1 1 1 1 1 1 1 1 1 1 1 1 1 1 1 1 1 0.824 0.824 0.824 0.824 0.824 0.824 1 1 1 1 1 1 0.541 0.541 0.541 0.541 0.541 0.541 0.541 0 0 0 0 0 0 0 0 0 0 0 0 0 0 0 0 0 0 0 0 0 0 0 0 0 0 0 0 0 0 0 0 0 0 0 0 0 0 0 0 0 0 0 0 0 0 0 0 0 0 0 0 0 0 0 0 0 0 0 0 0 0 0 0 0 0 0.431 0.431 0.431 0.431 0.431 0.431 0.431 0.431 0.431 0.431 0.431 0.431 0.431 0.431 0.431 0.431 0.431 0.431 0.431 0.431 0.431 0.431 1 1 1 1 1 1 1 1 1 1 1 1 1 1 1 1 1 1 1 1 1 1 1 1 1 1 1 1 1 1 1 1 1 1 1 1 1 1 1 1 1 1 1 1 1 1 1 1 1 1 1 1 1 1 1 1 1 1 1 1 1 1 1 1 1 1 1 1 1 1 1 1 1 1 1 1 1 1 1 1 1 1 1 1 1 1 1 1 1 1 1 1 1 1 1 0.471 0.471 0.471 0.471 0.471 0.471 0.471 0.471 0.471 0.471 0.471 0.471 0.471 0.471 0.471 0.471 0.471 0.471 0.471 0.471 0.471 0.471 0.471 0.471 0.471 0.471 0.471 0.471"/><feFuncA type="linear" slope="0" intercept="1"/></feComponentTransfer><feComponentTransfer in="V" result="Q"><feFuncR type="discrete" tableValues="0.000 0.000 0.000 0.000 0.000 0.000 0.000 0.000 0.000 0.000 0.000 0.000 0.000 0.000 0.000 0.000 0.000 0.000 0.000 0.000 0.000 0.000 0.000 0.000 0.000 0.000 0.000 0.000 0.000 0.000 0.000 0.000 0.000 0.000 0.000 0.000 0.000 0.000 0.000 0.000 0.000 0.000 0.000 0.000 0.050 0.050 0.050 0.050 0.050 0.050 0.050 0.050 0.050 0.100 0.100 0.100 0.100 0.100 0.100 0.100 0.100 0.100 0.100 0.150 0.150 0.150 0.150 0.150 0.150 0.150 0.150 0.150 0.150 0.150 0.150 0.150 0.200 0.200 0.200 0.200 0.200 0.200 0.200 0.200 0.200 0.200 0.200 0.200 0.200 0.200 0.200 0.250 0.250 0.250 0.250 0.250 0.250 0.250 0.250 0.250 0.250 0.250 0.250 0.250 0.250 0.250 0.250 0.250 0.250 0.250 0.300 0.300 0.300 0.300 0.300 0.300 0.300 0.300 0.300 0.300 0.300 0.300 0.300 0.300 0.300 0.300 0.300 0.300 0.300 0.300 0.300 0.300 0.350 0.350 0.350 0.350 0.350 0.350 0.350 0.350 0.350 0.350 0.350 0.350 0.350 0.350 0.350 0.350 0.350 0.350 0.350 0.350 0.350 0.350 0.350 0.350 0.350 0.350 0.400 0.400 0.400 0.400 0.400 0.400 0.400 0.400 0.400 0.400 0.400 0.400 0.400 0.400 0.400 0.400 0.400 0.400 0.400 0.400 0.400 0.400 0.400 0.400 0.400 0.400 0.400 0.400 0.400 0.400 0.400 0.450 0.450 0.450 0.450 0.450 0.450 0.450 0.450 0.450 0.450 0.450 0.450 0.450 0.450 0.450 0.450 0.450 0.450 0.450 0.450 0.450 0.450 0.450 0.450 0.450 0.450 0.450 0.450 0.450 0.450 0.450 0.450 0.450 0.450 0.450 0.450 0.450 0.450 0.500 0.500 0.500 0.500 0.500 0.500 0.500 0.500 0.500 0.500 0.500 0.500 0.500 0.500 0.500 0.500 0.500 0.500 0.500 0.500 0.500 0.500 0.500 0.500 0.500 0.500 0.500 0.500"/><feFuncG type="discrete" tableValues="0.000 0.000 0.000 0.000 0.000 0.000 0.000 0.000 0.000 0.000 0.000 0.000 0.000 0.000 0.000 0.000 0.000 0.000 0.000 0.000 0.000 0.000 0.000 0.000 0.000 0.000 0.000 0.000 0.000 0.000 0.000 0.000 0.000 0.000 0.000 0.000 0.000 0.000 0.000 0.000 0.000 0.000 0.000 0.000 0.050 0.050 0.050 0.050 0.050 0.050 0.050 0.050 0.050 0.100 0.100 0.100 0.100 0.100 0.100 0.100 0.100 0.100 0.100 0.150 0.150 0.150 0.150 0.150 0.150 0.150 0.150 0.150 0.150 0.150 0.150 0.150 0.200 0.200 0.200 0.200 0.200 0.200 0.200 0.200 0.200 0.200 0.200 0.200 0.200 0.200 0.200 0.250 0.250 0.250 0.250 0.250 0.250 0.250 0.250 0.250 0.250 0.250 0.250 0.250 0.250 0.250 0.250 0.250 0.250 0.250 0.300 0.300 0.300 0.300 0.300 0.300 0.300 0.300 0.300 0.300 0.300 0.300 0.300 0.300 0.300 0.300 0.300 0.300 0.300 0.300 0.300 0.300 0.350 0.350 0.350 0.350 0.350 0.350 0.350 0.350 0.350 0.350 0.350 0.350 0.350 0.350 0.350 0.350 0.350 0.350 0.350 0.350 0.350 0.350 0.350 0.350 0.350 0.350 0.400 0.400 0.400 0.400 0.400 0.400 0.400 0.400 0.400 0.400 0.400 0.400 0.400 0.400 0.400 0.400 0.400 0.400 0.400 0.400 0.400 0.400 0.400 0.400 0.400 0.400 0.400 0.400 0.400 0.400 0.400 0.450 0.450 0.450 0.450 0.450 0.450 0.450 0.450 0.450 0.450 0.450 0.450 0.450 0.450 0.450 0.450 0.450 0.450 0.450 0.450 0.450 0.450 0.450 0.450 0.450 0.450 0.450 0.450 0.450 0.450 0.450 0.450 0.450 0.450 0.450 0.450 0.450 0.450 0.500 0.500 0.500 0.500 0.500 0.500 0.500 0.500 0.500 0.500 0.500 0.500 0.500 0.500 0.500 0.500 0.500 0.500 0.500 0.500 0.500 0.500 0.500 0.500 0.500 0.500 0.500 0.500"/><feFuncB type="discrete" tableValues="0.000 0.000 0.000 0.000 0.000 0.000 0.000 0.000 0.000 0.000 0.000 0.000 0.000 0.000 0.000 0.000 0.000 0.000 0.000 0.000 0.000 0.000 0.000 0.000 0.000 0.000 0.000 0.000 0.000 0.000 0.000 0.000 0.000 0.000 0.000 0.000 0.000 0.000 0.000 0.000 0.000 0.000 0.000 0.000 0.050 0.050 0.050 0.050 0.050 0.050 0.050 0.050 0.050 0.100 0.100 0.100 0.100 0.100 0.100 0.100 0.100 0.100 0.100 0.150 0.150 0.150 0.150 0.150 0.150 0.150 0.150 0.150 0.150 0.150 0.150 0.150 0.200 0.200 0.200 0.200 0.200 0.200 0.200 0.200 0.200 0.200 0.200 0.200 0.200 0.200 0.200 0.250 0.250 0.250 0.250 0.250 0.250 0.250 0.250 0.250 0.250 0.250 0.250 0.250 0.250 0.250 0.250 0.250 0.250 0.250 0.300 0.300 0.300 0.300 0.300 0.300 0.300 0.300 0.300 0.300 0.300 0.300 0.300 0.300 0.300 0.300 0.300 0.300 0.300 0.300 0.300 0.300 0.350 0.350 0.350 0.350 0.350 0.350 0.350 0.350 0.350 0.350 0.350 0.350 0.350 0.350 0.350 0.350 0.350 0.350 0.350 0.350 0.350 0.350 0.350 0.350 0.350 0.350 0.400 0.400 0.400 0.400 0.400 0.400 0.400 0.400 0.400 0.400 0.400 0.400 0.400 0.400 0.400 0.400 0.400 0.400 0.400 0.400 0.400 0.400 0.400 0.400 0.400 0.400 0.400 0.400 0.400 0.400 0.400 0.450 0.450 0.450 0.450 0.450 0.450 0.450 0.450 0.450 0.450 0.450 0.450 0.450 0.450 0.450 0.450 0.450 0.450 0.450 0.450 0.450 0.450 0.450 0.450 0.450 0.450 0.450 0.450 0.450 0.450 0.450 0.450 0.450 0.450 0.450 0.450 0.450 0.450 0.500 0.500 0.500 0.500 0.500 0.500 0.500 0.500 0.500 0.500 0.500 0.500 0.500 0.500 0.500 0.500 0.500 0.500 0.500 0.500 0.500 0.500 0.500 0.500 0.500 0.500 0.500 0.500"/><feFuncA type="linear" slope="0" intercept="1"/></feComponentTransfer><feConvolveMatrix in="Q" order="3" kernelMatrix="0 -1 0 -1 4 -1 0 -1 0" divisor="1" bias="0" preserveAlpha="true" result="D"/><feColorMatrix in="D" type="matrix" values="0 0 0 0 0 0 0 0 0 0 0 0 0 0 0 5 0 0 0 0" result="L"/><feComposite in="L" in2="C" operator="over"/></filter><g transform="rotate(30 345 318)"><g filter="url(#fx5)"><g transform="rotate(-30 345 318)">
<rect x="-100" y="-100" width="900" height="900" fill="#000"/>
<polygon points="218.7,194.4 382.6,194.4 395.2,396.1 218.7,396.1" fill="#13ff00"/>
<polygon points="105.3,212.1 193.5,212.1 201.1,277.6 105.3,277.6" fill="#19ff00"/>
<polygon points="130.5,277.6 218.7,282.7 218.7,408.7 143.1,396.1" fill="#14ff00"/>
<polygon points="337.2,408.7 483.4,396.1 571.6,433.9 579.2,524.7 483.4,554.9 344.8,554.9 337.2,459.1" fill="#15ff00"/>
<polygon points="357.4,194.4 433.0,207.0 433.0,383.5 370.0,383.5" fill="#15ff00"/>
<polygon points="155.7,81.0 357.4,81.0 352.3,118.8 327.1,164.2 281.8,186.9 231.3,191.9 206.1,212.1 150.7,212.1 163.3,156.6 168.3,118.8" fill="#1e6600"/>
<ellipse cx="294.4" cy="116.3" rx="17.6" ry="15.1" transform="rotate(0 294.4 116.3)" fill="#00ff00"/>
<ellipse cx="191.0" cy="149.1" rx="10.1" ry="4.5" transform="rotate(0 191.0 149.1)" fill="#00ff00"/>
<polygon points="188.5,81.0 294.4,81.0 286.8,118.8 256.5,151.6 231.3,156.6 193.5,136.5" fill="#3acc00"/>
<polygon points="196.0,91.1 246.5,81.0 246.5,146.5 218.7,146.5 193.5,126.4" fill="#648c00"/>
<ellipse cx="223.8" cy="111.2" rx="12.6" ry="27.7" transform="rotate(0 223.8 111.2)" fill="#908c00"/>
<ellipse cx="223.8" cy="91.1" rx="6.3" ry="10.1" transform="rotate(0 223.8 91.1)" fill="#ad8c00"/>
<ellipse cx="269.2" cy="101.2" rx="20.2" ry="10.1" transform="rotate(10 269.2 101.2)" fill="#538c00"/>
<ellipse cx="180.9" cy="159.1" rx="7.6" ry="5.0" transform="rotate(20 180.9 159.1)" fill="#648c00"/>
<ellipse cx="206.1" cy="171.7" rx="12.6" ry="6.3" transform="rotate(20 206.1 171.7)" fill="#788c00"/>
<ellipse cx="226.3" cy="169.2" rx="7.6" ry="5.0" transform="rotate(20 226.3 169.2)" fill="#648c00"/>
<ellipse cx="180.9" cy="189.4" rx="5.0" ry="3.0" transform="rotate(20 180.9 189.4)" fill="#648c00"/>
<ellipse cx="238.9" cy="141.5" rx="6.3" ry="7.6" transform="rotate(20 238.9 141.5)" fill="#788c00"/>
<ellipse cx="327.1" cy="108.7" rx="15.1" ry="6.3" transform="rotate(10 327.1 108.7)" fill="#30cc00"/>
<polygon points="364.9,146.5 463.3,161.7 468.3,207.0 370.0,207.0" fill="#22bf00"/>
<ellipse cx="417.9" cy="186.9" rx="10.1" ry="10.1" transform="rotate(0 417.9 186.9)" fill="#908c00"/>
<ellipse cx="455.7" cy="171.7" rx="8.8" ry="10.1" transform="rotate(30 455.7 171.7)" fill="#788c00"/>
<ellipse cx="373.8" cy="197.0" rx="3.8" ry="3.0" transform="rotate(0 373.8 197.0)" fill="#648c00"/>
<polygon points="433.0,202.0 496.0,202.0 496.0,247.4 433.0,247.4" fill="#1e6600"/>
<polygon points="433.0,244.9 470.8,207.0 533.8,237.3 538.9,398.6 508.6,408.7 458.2,383.5 417.9,370.9 417.9,307.9 425.4,277.6" fill="#22bf00"/>
<polygon points="453.2,257.5 483.4,217.1 533.8,237.3 538.9,396.1 496.0,383.5 453.2,363.3 428.0,333.1 438.0,295.3" fill="#46cc00"/>
<polygon points="475.9,272.6 491.0,232.2 533.8,237.3 538.9,388.5 498.5,370.9 458.2,345.7 458.2,295.3" fill="#788c00"/>
<polygon points="493.5,252.4 531.3,242.3 523.8,307.9 508.6,335.6 478.4,333.1 493.5,295.3" fill="#ad8c00"/>
<ellipse cx="513.7" cy="358.3" rx="17.6" ry="12.6" transform="rotate(0 513.7 358.3)" fill="#908c00"/>
<ellipse cx="498.5" cy="375.9" rx="12.6" ry="5.0" transform="rotate(30 498.5 375.9)" fill="#30cc00"/>
<ellipse cx="395.2" cy="403.7" rx="15.1" ry="6.3" transform="rotate(10 395.2 403.7)" fill="#30cc00"/>
<ellipse cx="395.2" cy="403.7" rx="4.5" ry="2.0" transform="rotate(10 395.2 403.7)" fill="#648c00"/>
<ellipse cx="395.2" cy="319.2" rx="5.0" ry="3.8" transform="rotate(0 395.2 319.2)" fill="#3acc00"/>
<ellipse cx="395.2" cy="319.2" rx="2.0" ry="1.5" transform="rotate(0 395.2 319.2)" fill="#648c00"/>
<ellipse cx="400.2" cy="519.6" rx="35.3" ry="6.3" transform="rotate(-15 400.2 519.6)" fill="#30cc00"/>
<ellipse cx="387.6" cy="519.6" rx="12.6" ry="2.5" transform="rotate(-15 387.6 519.6)" fill="#538c00"/>
<ellipse cx="412.8" cy="466.7" rx="22.7" ry="6.3" transform="rotate(-15 412.8 466.7)" fill="#30cc00"/>
<ellipse cx="541.4" cy="454.1" rx="17.6" ry="3.8" transform="rotate(60 541.4 454.1)" fill="#28cc00"/>
<ellipse cx="541.4" cy="454.1" rx="6.3" ry="1.5" transform="rotate(60 541.4 454.1)" fill="#648c00"/>
<ellipse cx="206.1" cy="408.7" rx="25.2" ry="7.6" transform="rotate(30 206.1 408.7)" fill="#28cc00"/>
<ellipse cx="251.5" cy="416.3" rx="20.2" ry="10.1" transform="rotate(30 251.5 416.3)" fill="#28cc00"/>
</g></g></g></g>
<polygon points="551.1,243.2 555.2,244.0 559.2,245.6 562.5,244.8 562.5,251.3 560.9,259.5 560.1,267.7 559.0,275.0 557.0,279.0 551.0,279.5 549.4,274.0 547.8,269.3 546.2,266.1 548.2,261.2 547.8,253.0 550.2,247.3" fill="#111"/><polygon points="532.3,281.6 538.8,281.6 541.3,285.7 540.4,292.2 543.7,298.8 547.0,302.0 549.4,310.2 546.2,313.5 547.8,321.7 543.7,323.3 540.4,316.7 536.3,313.5 530.6,308.6 528.2,300.4 529.0,295.5 530.6,288.1" fill="#2a2a2a"/><polygon points="562.5,363.3 563.3,367.4 560.9,378.1 556.0,382.1 551.1,378.9 547.0,375.6 544.5,375.6 548.6,374.0 555.2,369.9 559.2,365.8" fill="#111"/>
<use href="#grid"/>
<use href="#outline"/>
<rect x="105.6" y="81.4" width="479.4" height="472.9" fill="none" stroke="#000" stroke-width="2.5"/>
<text x="105.8" y="62.9" font-size="42.8">(f) Milbrandt</text>
<text x="90.4" y="172.7" font-size="31" text-anchor="end">3°S</text>
<text x="90.4" y="302.3" font-size="31" text-anchor="end">6°S</text>
<text x="90.4" y="431.8" font-size="31" text-anchor="end">9°S</text>
<text x="90.4" y="561.5" font-size="31" text-anchor="end">12°S</text>
<text x="233.6" y="593.7" font-size="31" text-anchor="middle">32.3°E</text>
<text x="363.5" y="593.7" font-size="31" text-anchor="middle">35.3°E</text>
<text x="493.3" y="593.7" font-size="31" text-anchor="middle">38.3°E</text>
</g>
<g transform="translate(0,1442.0)">
<g clip-path="url(#land)"><filter id="fx6" filterUnits="userSpaceOnUse" x="-400" y="-400" width="1600" height="1600" color-interpolation-filters="sRGB"><feGaussianBlur in="SourceGraphic" stdDeviation="4" result="B"/><feColorMatrix in="B" type="matrix" values="1 0 0 0 0 1 0 0 0 0 1 0 0 0 0 0 0 0 0 1" result="F"/><feColorMatrix in="B" type="matrix" values="0 1 0 0 0 0 1 0 0 0 0 1 0 0 0 0 0 0 0 1" result="A"/><feTurbulence type="fractalNoise" baseFrequency="0.04 0.12" numOctaves="3" seed="57" result="N"/><feColorMatrix in="N" type="matrix" values="1 0 0 0 0 1 0 0 0 0 1 0 0 0 0 0 0 0 0 1" result="N1"/><feComposite in="A" in2="N1" operator="arithmetic" k1="1" k2="-0.5" k3="0" k4="0.5" result="M"/><feComposite in="F" in2="M" operator="arithmetic" k1="2.4" k2="-0.2" k3="0" k4="0" result="V"/><feComponentTransfer in="V" result="C"><feFuncR type="discrete" tableValues="1 1 1 1 1 1 1 1 1 1 1 1 1 1 1 1 1 1 1 1 1 1 1 1 1 0.306 0.306 0.306 0.306 0.306 0.306 0 0 0 0 0 0 0 0 0 0 0 0 0 0 0 0 0 0 0 0 0 0 0.502 0.502 0.502 0.502 0.502 0.502 0.502 0.502 0.502 0.502 1 1 1 1 1 1 1 1 1 1 1 1 1 1 1 1 1 1 1 1 1 1 1 1 1 1 1 1 1 1 1 1 1 1 1 1 1 1 1 1 1 1 1 1 1 1 1 1 1 1 1 1 1 1 1 1 1 1 1 1 1 1 1 1 1 1 1 1 1 0.941 0.941 0.941 0.941 0.941 0.941 0.941 0.941 0.941 0.941 0.941 0.941 0.941 0.941 0.941 0.941 0.941 0.941 0.941 0.941 0.941 0.941 0.941 0.941 0.941 0.941 0.502 0.502 0.502 0.502 0.502 0.502 0.502 0.502 0.502 0.502 0.502 0.502 0.502 0.502 0.502 0.502 0.502 0.502 0.502 0.502 0.502 0.502 0.502 0.502 0.502 0.502 0.502 0.502 0.502 0.502 0.502 0.235 0.235 0.235 0.235 0.235 0.235 0.235 0.235 0.235 0.235 0.235 0.235 0.235 0.235 0.235 0.235 0.235 0.235 0.235 0.235 0.235 0.235 0.235 0.235 0.235 0.235 0.235 0.235 0.235 0.235 0.235 0.235 0.235 0.235 0.235 0.235 0.235 0.235 0.118 0.118 0.118 0.118 0.118 0.118 0.118 0.118 0.118 0.118 0.118 0.118 0.118 0.118 0.118 0.118 0.118 0.118 0.118 0.118 0.118 0.118 0.118 0.118 0.118 0.118 0.118 0.118"/><feFuncG type="discrete" tableValues="1 1 1 1 1 1 1 1 1 1 1 1 1 1 1 1 1 1 1 1 1 1 1 1 1 0.812 0.812 0.812 0.812 0.812 0.812 1 1 1 1 1 1 0.851 0.851 0.851 0.851 0.851 0.851 0.851 0.753 0.753 0.753 0.753 0.753 0.753 0.753 0.753 0.753 0.847 0.847 0.847 0.847 0.847 0.847 0.847 0.847 0.847 0.847 1 1 1 1 1 1 1 1 1 1 1 1 1 0.624 0.624 0.624 0.624 0.624 0.624 0.624 0.624 0.624 0.624 0.624 0.624 0.624 0.624 0.624 0 0 0 0 0 0 0 0 0 0 0 0 0 0 0 0 0 0 0 0.102 0.102 0.102 0.102 0.102 0.102 0.102 0.102 0.102 0.102 0.102 0.102 0.102 0.102 0.102 0.102 0.102 0.102 0.102 0.102 0.102 0.102 0.251 0.251 0.251 0.251 0.251 0.251 0.251 0.251 0.251 0.251 0.251 0.251 0.251 0.251 0.251 0.251 0.251 0.251 0.251 0.251 0.251 0.251 0.251 0.251 0.251 0.251 0.125 0.125 0.125 0.125 0.125 0.125 0.125 0.125 0.125 0.125 0.125 0.125 0.125 0.125 0.125 0.125 0.125 0.125 0.125 0.125 0.125 0.125 0.125 0.125 0.125 0.125 0.125 0.125 0.125 0.125 0.125 0.235 0.235 0.235 0.235 0.235 0.235 0.235 0.235 0.235 0.235 0.235 0.235 0.235 0.235 0.235 0.235 0.235 0.235 0.235 0.235 0.235 0.235 0.235 0.235 0.235 0.235 0.235 0.235 0.235 0.235 0.235 0.235 0.235 0.235 0.235 0.235 0.235 0.235 0.118 0.118 0.118 0.118 0.118 0.118 0.118 0.118 0.118 0.118 0.118 0.118 0.118 0.118 0.118 0.118 0.118 0.118 0.118 0.118 0.118 0.118 0.118 0.118 0.118 0.118 0.118 0.118"/><feFuncB type="discrete" tableValues="1 1 1 1 1 1 1 1 1 1 1 1 1 1 1 1 1 1 1 1 1 1 1 1 1 0.824 0.824 0.824 0.824 0.824 0.824 1 1 1 1 1 1 0.541 0.541 0.541 0.541 0.541 0.541 0.541 0 0 0 0 0 0 0 0 0 0 0 0 0 0 0 0 0 0 0 0 0 0 0 0 0 0 0 0 0 0 0 0 0 0 0 0 0 0 0 0 0 0 0 0 0 0 0 0 0 0 0 0 0 0 0 0 0 0 0 0 0 0 0 0 0 0 0.431 0.431 0.431 0.431 0.431 0.431 0.431 0.431 0.431 0.431 0.431 0.431 0.431 0.431 0.431 0.431 0.431 0.431 0.431 0.431 0.431 0.431 1 1 1 1 1 1 1 1 1 1 1 1 1 1 1 1 1 1 1 1 1 1 1 1 1 1 1 1 1 1 1 1 1 1 1 1 1 1 1 1 1 1 1 1 1 1 1 1 1 1 1 1 1 1 1 1 1 1 1 1 1 1 1 1 1 1 1 1 1 1 1 1 1 1 1 1 1 1 1 1 1 1 1 1 1 1 1 1 1 1 1 1 1 1 1 0.471 0.471 0.471 0.471 0.471 0.471 0.471 0.471 0.471 0.471 0.471 0.471 0.471 0.471 0.471 0.471 0.471 0.471 0.471 0.471 0.471 0.471 0.471 0.471 0.471 0.471 0.471 0.471"/><feFuncA type="linear" slope="0" intercept="1"/></feComponentTransfer><feComponentTransfer in="V" result="Q"><feFuncR type="discrete" tableValues="0.000 0.000 0.000 0.000 0.000 0.000 0.000 0.000 0.000 0.000 0.000 0.000 0.000 0.000 0.000 0.000 0.000 0.000 0.000 0.000 0.000 0.000 0.000 0.000 0.000 0.000 0.000 0.000 0.000 0.000 0.000 0.000 0.000 0.000 0.000 0.000 0.000 0.000 0.000 0.000 0.000 0.000 0.000 0.000 0.050 0.050 0.050 0.050 0.050 0.050 0.050 0.050 0.050 0.100 0.100 0.100 0.100 0.100 0.100 0.100 0.100 0.100 0.100 0.150 0.150 0.150 0.150 0.150 0.150 0.150 0.150 0.150 0.150 0.150 0.150 0.150 0.200 0.200 0.200 0.200 0.200 0.200 0.200 0.200 0.200 0.200 0.200 0.200 0.200 0.200 0.200 0.250 0.250 0.250 0.250 0.250 0.250 0.250 0.250 0.250 0.250 0.250 0.250 0.250 0.250 0.250 0.250 0.250 0.250 0.250 0.300 0.300 0.300 0.300 0.300 0.300 0.300 0.300 0.300 0.300 0.300 0.300 0.300 0.300 0.300 0.300 0.300 0.300 0.300 0.300 0.300 0.300 0.350 0.350 0.350 0.350 0.350 0.350 0.350 0.350 0.350 0.350 0.350 0.350 0.350 0.350 0.350 0.350 0.350 0.350 0.350 0.350 0.350 0.350 0.350 0.350 0.350 0.350 0.400 0.400 0.400 0.400 0.400 0.400 0.400 0.400 0.400 0.400 0.400 0.400 0.400 0.400 0.400 0.400 0.400 0.400 0.400 0.400 0.400 0.400 0.400 0.400 0.400 0.400 0.400 0.400 0.400 0.400 0.400 0.450 0.450 0.450 0.450 0.450 0.450 0.450 0.450 0.450 0.450 0.450 0.450 0.450 0.450 0.450 0.450 0.450 0.450 0.450 0.450 0.450 0.450 0.450 0.450 0.450 0.450 0.450 0.450 0.450 0.450 0.450 0.450 0.450 0.450 0.450 0.450 0.450 0.450 0.500 0.500 0.500 0.500 0.500 0.500 0.500 0.500 0.500 0.500 0.500 0.500 0.500 0.500 0.500 0.500 0.500 0.500 0.500 0.500 0.500 0.500 0.500 0.500 0.500 0.500 0.500 0.500"/><feFuncG type="discrete" tableValues="0.000 0.000 0.000 0.000 0.000 0.000 0.000 0.000 0.000 0.000 0.000 0.000 0.000 0.000 0.000 0.000 0.000 0.000 0.000 0.000 0.000 0.000 0.000 0.000 0.000 0.000 0.000 0.000 0.000 0.000 0.000 0.000 0.000 0.000 0.000 0.000 0.000 0.000 0.000 0.000 0.000 0.000 0.000 0.000 0.050 0.050 0.050 0.050 0.050 0.050 0.050 0.050 0.050 0.100 0.100 0.100 0.100 0.100 0.100 0.100 0.100 0.100 0.100 0.150 0.150 0.150 0.150 0.150 0.150 0.150 0.150 0.150 0.150 0.150 0.150 0.150 0.200 0.200 0.200 0.200 0.200 0.200 0.200 0.200 0.200 0.200 0.200 0.200 0.200 0.200 0.200 0.250 0.250 0.250 0.250 0.250 0.250 0.250 0.250 0.250 0.250 0.250 0.250 0.250 0.250 0.250 0.250 0.250 0.250 0.250 0.300 0.300 0.300 0.300 0.300 0.300 0.300 0.300 0.300 0.300 0.300 0.300 0.300 0.300 0.300 0.300 0.300 0.300 0.300 0.300 0.300 0.300 0.350 0.350 0.350 0.350 0.350 0.350 0.350 0.350 0.350 0.350 0.350 0.350 0.350 0.350 0.350 0.350 0.350 0.350 0.350 0.350 0.350 0.350 0.350 0.350 0.350 0.350 0.400 0.400 0.400 0.400 0.400 0.400 0.400 0.400 0.400 0.400 0.400 0.400 0.400 0.400 0.400 0.400 0.400 0.400 0.400 0.400 0.400 0.400 0.400 0.400 0.400 0.400 0.400 0.400 0.400 0.400 0.400 0.450 0.450 0.450 0.450 0.450 0.450 0.450 0.450 0.450 0.450 0.450 0.450 0.450 0.450 0.450 0.450 0.450 0.450 0.450 0.450 0.450 0.450 0.450 0.450 0.450 0.450 0.450 0.450 0.450 0.450 0.450 0.450 0.450 0.450 0.450 0.450 0.450 0.450 0.500 0.500 0.500 0.500 0.500 0.500 0.500 0.500 0.500 0.500 0.500 0.500 0.500 0.500 0.500 0.500 0.500 0.500 0.500 0.500 0.500 0.500 0.500 0.500 0.500 0.500 0.500 0.500"/><feFuncB type="discrete" tableValues="0.000 0.000 0.000 0.000 0.000 0.000 0.000 0.000 0.000 0.000 0.000 0.000 0.000 0.000 0.000 0.000 0.000 0.000 0.000 0.000 0.000 0.000 0.000 0.000 0.000 0.000 0.000 0.000 0.000 0.000 0.000 0.000 0.000 0.000 0.000 0.000 0.000 0.000 0.000 0.000 0.000 0.000 0.000 0.000 0.050 0.050 0.050 0.050 0.050 0.050 0.050 0.050 0.050 0.100 0.100 0.100 0.100 0.100 0.100 0.100 0.100 0.100 0.100 0.150 0.150 0.150 0.150 0.150 0.150 0.150 0.150 0.150 0.150 0.150 0.150 0.150 0.200 0.200 0.200 0.200 0.200 0.200 0.200 0.200 0.200 0.200 0.200 0.200 0.200 0.200 0.200 0.250 0.250 0.250 0.250 0.250 0.250 0.250 0.250 0.250 0.250 0.250 0.250 0.250 0.250 0.250 0.250 0.250 0.250 0.250 0.300 0.300 0.300 0.300 0.300 0.300 0.300 0.300 0.300 0.300 0.300 0.300 0.300 0.300 0.300 0.300 0.300 0.300 0.300 0.300 0.300 0.300 0.350 0.350 0.350 0.350 0.350 0.350 0.350 0.350 0.350 0.350 0.350 0.350 0.350 0.350 0.350 0.350 0.350 0.350 0.350 0.350 0.350 0.350 0.350 0.350 0.350 0.350 0.400 0.400 0.400 0.400 0.400 0.400 0.400 0.400 0.400 0.400 0.400 0.400 0.400 0.400 0.400 0.400 0.400 0.400 0.400 0.400 0.400 0.400 0.400 0.400 0.400 0.400 0.400 0.400 0.400 0.400 0.400 0.450 0.450 0.450 0.450 0.450 0.450 0.450 0.450 0.450 0.450 0.450 0.450 0.450 0.450 0.450 0.450 0.450 0.450 0.450 0.450 0.450 0.450 0.450 0.450 0.450 0.450 0.450 0.450 0.450 0.450 0.450 0.450 0.450 0.450 0.450 0.450 0.450 0.450 0.500 0.500 0.500 0.500 0.500 0.500 0.500 0.500 0.500 0.500 0.500 0.500 0.500 0.500 0.500 0.500 0.500 0.500 0.500 0.500 0.500 0.500 0.500 0.500 0.500 0.500 0.500 0.500"/><feFuncA type="linear" slope="0" intercept="1"/></feComponentTransfer><feConvolveMatrix in="Q" order="3" kernelMatrix="0 -1 0 -1 4 -1 0 -1 0" divisor="1" bias="0" preserveAlpha="true" result="D"/><feColorMatrix in="D" type="matrix" values="0 0 0 0 0 0 0 0 0 0 0 0 0 0 0 5 0 0 0 0" result="L"/><feComposite in="L" in2="C" operator="over"/></filter><g transform="rotate(30 345 318)"><g filter="url(#fx6)"><g transform="rotate(-30 345 318)">
<rect x="-100" y="-100" width="900" height="900" fill="#000"/>
<polygon points="276.4,88.6 331.9,88.6 357.1,118.8 344.5,164.2 276.4,164.2" fill="#15ff00"/>
<polygon points="105.0,189.4 185.7,189.4 185.7,277.6 105.0,277.6" fill="#17ff00"/>
<polygon points="193.2,194.4 357.1,194.4 357.1,396.1 193.2,396.1" fill="#10ff00"/>
<polygon points="357.1,156.6 432.7,156.6 432.7,396.1 357.1,396.1" fill="#13ff00"/>
<polygon points="344.5,421.3 483.1,421.3 571.3,446.5 578.9,524.7 483.1,554.9 357.1,554.9" fill="#13ff00"/>
<polygon points="236.1,408.7 319.3,408.7 319.3,433.9 236.1,433.9" fill="#15ff00"/>
<polygon points="155.4,81.0 319.3,81.0 306.7,118.8 294.1,146.5 261.3,164.2 231.0,186.9 200.8,199.5 155.4,199.5 163.0,156.6 168.0,118.8" fill="#22bf00"/>
<polygon points="180.6,81.0 301.6,81.0 286.5,118.8 268.9,151.6 236.1,161.7 205.8,164.2 183.1,131.4" fill="#3acc00"/>
<polygon points="193.2,81.0 281.5,81.0 273.9,113.8 261.3,141.5 236.1,151.6 210.9,146.5 195.7,118.8" fill="#648c00"/>
<ellipse cx="226.0" cy="96.1" rx="20.2" ry="12.6" transform="rotate(0 226.0 96.1)" fill="#908c00"/>
<ellipse cx="256.2" cy="126.4" rx="12.6" ry="12.6" transform="rotate(0 256.2 126.4)" fill="#908c00"/>
<ellipse cx="221.0" cy="139.0" rx="7.6" ry="6.3" transform="rotate(0 221.0 139.0)" fill="#ad8c00"/>
<ellipse cx="218.4" cy="168.0" rx="6.3" ry="5.0" transform="rotate(20 218.4 168.0)" fill="#648c00"/>
<ellipse cx="203.3" cy="179.3" rx="3.8" ry="3.0" transform="rotate(20 203.3 179.3)" fill="#538c00"/>
<ellipse cx="190.7" cy="184.4" rx="7.6" ry="3.8" transform="rotate(20 190.7 184.4)" fill="#46cc00"/>
<ellipse cx="163.0" cy="197.0" rx="6.3" ry="3.0" transform="rotate(20 163.0 197.0)" fill="#3acc00"/>
<ellipse cx="127.7" cy="257.5" rx="10.1" ry="7.6" transform="rotate(30 127.7 257.5)" fill="#30cc00"/>
<ellipse cx="130.2" cy="310.4" rx="10.1" ry="7.6" transform="rotate(30 130.2 310.4)" fill="#30cc00"/>
<ellipse cx="130.2" cy="310.4" rx="3.0" ry="2.5" transform="rotate(30 130.2 310.4)" fill="#538c00"/>
<ellipse cx="394.9" cy="197.0" rx="30.2" ry="4.5" transform="rotate(3 394.9 197.0)" fill="#30cc00"/>
<ellipse cx="376.0" cy="198.2" rx="5.0" ry="2.0" transform="rotate(0 376.0 198.2)" fill="#46cc00"/>
<ellipse cx="418.8" cy="260.0" rx="8.8" ry="6.3" transform="rotate(0 418.8 260.0)" fill="#30cc00"/>
<ellipse cx="418.8" cy="260.0" rx="3.0" ry="2.0" transform="rotate(0 418.8 260.0)" fill="#648c00"/>
<ellipse cx="369.7" cy="287.7" rx="12.6" ry="17.6" transform="rotate(40 369.7 287.7)" fill="#22bf00"/>
<ellipse cx="396.2" cy="316.7" rx="5.0" ry="10.1" transform="rotate(80 396.2 316.7)" fill="#22bf00"/>
<ellipse cx="407.5" cy="373.4" rx="12.6" ry="5.0" transform="rotate(20 407.5 373.4)" fill="#28cc00"/>
<ellipse cx="442.8" cy="170.5" rx="22.7" ry="12.6" transform="rotate(20 442.8 170.5)" fill="#28cc00"/>
<ellipse cx="447.8" cy="166.7" rx="7.6" ry="6.3" transform="rotate(20 447.8 166.7)" fill="#648c00"/>
<polygon points="452.9,199.5 483.1,202.0 533.5,237.3 538.6,416.3 520.9,416.3 470.5,388.5 427.7,363.3 422.6,320.5 432.7,282.7 452.9,257.5" fill="#22bf00"/>
<polygon points="463.0,242.3 488.2,212.1 533.5,237.3 538.6,408.7 498.2,383.5 452.9,358.3 432.7,328.0 445.3,295.3" fill="#3acc00"/>
<polygon points="483.1,257.5 493.2,222.2 533.5,237.3 538.6,398.6 498.2,378.5 463.0,353.2 457.9,307.9" fill="#648c00"/>
<polygon points="505.8,242.3 531.0,237.3 528.5,290.2 518.4,300.3 505.8,272.6" fill="#ad8c00"/>
<ellipse cx="483.1" cy="320.5" rx="10.1" ry="7.6" transform="rotate(0 483.1 320.5)" fill="#908c00"/>
<ellipse cx="528.5" cy="370.9" rx="10.1" ry="15.1" transform="rotate(0 528.5 370.9)" fill="#908c00"/>
<ellipse cx="508.3" cy="333.1" rx="10.1" ry="7.6" transform="rotate(0 508.3 333.1)" fill="#30cc00"/>
<ellipse cx="528.5" cy="406.2" rx="10.1" ry="5.0" transform="rotate(40 528.5 406.2)" fill="#648c00"/>
<ellipse cx="392.4" cy="494.4" rx="15.1" ry="3.0" transform="rotate(-20 392.4 494.4)" fill="#22bf00"/>
<ellipse cx="382.3" cy="517.1" rx="15.1" ry="3.0" transform="rotate(-20 382.3 517.1)" fill="#22bf00"/>
</g></g></g></g>
<polygon points="551.1,243.2 555.2,244.0 559.2,245.6 562.5,244.8 562.5,251.3 560.9,259.5 560.1,267.7 559.0,275.0 557.0,279.0 551.0,279.5 549.4,274.0 547.8,269.3 546.2,266.1 548.2,261.2 547.8,253.0 550.2,247.3" fill="#111"/><polygon points="532.3,281.6 538.8,281.6 541.3,285.7 540.4,292.2 543.7,298.8 547.0,302.0 549.4,310.2 546.2,313.5 547.8,321.7 543.7,323.3 540.4,316.7 536.3,313.5 530.6,308.6 528.2,300.4 529.0,295.5 530.6,288.1" fill="#2a2a2a"/><polygon points="562.5,363.3 563.3,367.4 560.9,378.1 556.0,382.1 551.1,378.9 547.0,375.6 544.5,375.6 548.6,374.0 555.2,369.9 559.2,365.8" fill="#111"/>
<use href="#grid"/>
<use href="#outline"/>
<rect x="105.6" y="81.4" width="479.4" height="472.9" fill="none" stroke="#000" stroke-width="2.5"/>
<text x="105.8" y="62.9" font-size="42.8">(g) WDM6</text>
<text x="90.4" y="172.7" font-size="31" text-anchor="end">3°S</text>
<text x="90.4" y="302.3" font-size="31" text-anchor="end">6°S</text>
<text x="90.4" y="431.8" font-size="31" text-anchor="end">9°S</text>
<text x="90.4" y="561.5" font-size="31" text-anchor="end">12°S</text>
<text x="233.6" y="593.7" font-size="31" text-anchor="middle">32.3°E</text>
<text x="363.5" y="593.7" font-size="31" text-anchor="middle">35.3°E</text>
<text x="493.3" y="593.7" font-size="31" text-anchor="middle">38.3°E</text>
</g>
<rect x="1840.7" y="1314.16" width="30.6" height="30.84" fill="#ffffff"/><rect x="1840.7" y="1283.63" width="30.6" height="30.84" fill="#4ecfd2"/><rect x="1840.7" y="1253.10" width="30.6" height="30.84" fill="#00ffff"/><rect x="1840.7" y="1222.56" width="30.6" height="30.84" fill="#00d98a"/><rect x="1840.7" y="1192.02" width="30.6" height="30.84" fill="#00c000"/><rect x="1840.7" y="1161.49" width="30.6" height="30.84" fill="#80d800"/><rect x="1840.7" y="1130.95" width="30.6" height="30.84" fill="#ffff00"/><rect x="1840.7" y="1100.42" width="30.6" height="30.84" fill="#ff9f00"/><rect x="1840.7" y="1069.88" width="30.6" height="30.84" fill="#ff0000"/><rect x="1840.7" y="1039.35" width="30.6" height="30.84" fill="#ff1a6e"/><rect x="1840.7" y="1008.81" width="30.6" height="30.84" fill="#f040ff"/><rect x="1840.7" y="978.28" width="30.6" height="30.84" fill="#8020ff"/><rect x="1840.7" y="947.75" width="30.6" height="30.84" fill="#3c3cff"/><rect x="1840.7" y="917.21" width="30.6" height="30.84" fill="#1e1e78"/><rect x="1840.7" y="886.68" width="30.6" height="30.84" fill="#222222"/><rect x="1840.7" y="856.14" width="30.6" height="30.84" fill="#808080"/><rect x="1840.7" y="825.61" width="30.6" height="30.84" fill="#dedede"/><rect x="1840.7" y="795.07" width="30.6" height="30.84" fill="#f0d8c0"/><rect x="1840.7" y="764.53" width="30.6" height="30.84" fill="#d8a070"/><rect x="1840.7" y="734.00" width="30.6" height="30.84" fill="#6b3a08"/>
<rect x="1840.7" y="734.0" width="30.6" height="610.7" fill="none" stroke="#000" stroke-width="2.2"/>
<g stroke="#000" stroke-width="2.2"><line x1="1871.3" y1="1344.70" x2="1881.8" y2="1344.70"/><line x1="1871.3" y1="1314.16" x2="1877.3" y2="1314.16"/><line x1="1871.3" y1="1283.63" x2="1877.3" y2="1283.63"/><line x1="1871.3" y1="1253.10" x2="1881.8" y2="1253.10"/><line x1="1871.3" y1="1222.56" x2="1877.3" y2="1222.56"/><line x1="1871.3" y1="1192.03" x2="1877.3" y2="1192.03"/><line x1="1871.3" y1="1161.49" x2="1881.8" y2="1161.49"/><line x1="1871.3" y1="1130.95" x2="1877.3" y2="1130.95"/><line x1="1871.3" y1="1100.42" x2="1877.3" y2="1100.42"/><line x1="1871.3" y1="1069.88" x2="1881.8" y2="1069.88"/><line x1="1871.3" y1="1039.35" x2="1877.3" y2="1039.35"/><line x1="1871.3" y1="1008.82" x2="1877.3" y2="1008.82"/><line x1="1871.3" y1="978.28" x2="1881.8" y2="978.28"/><line x1="1871.3" y1="947.75" x2="1877.3" y2="947.75"/><line x1="1871.3" y1="917.21" x2="1877.3" y2="917.21"/><line x1="1871.3" y1="886.67" x2="1881.8" y2="886.67"/><line x1="1871.3" y1="856.14" x2="1877.3" y2="856.14"/><line x1="1871.3" y1="825.61" x2="1877.3" y2="825.61"/><line x1="1871.3" y1="795.07" x2="1881.8" y2="795.07"/><line x1="1871.3" y1="764.53" x2="1877.3" y2="764.53"/><line x1="1871.3" y1="734.00" x2="1877.3" y2="734.00"/></g>
<text x="1892.5" y="1355.9" font-size="30.5">0</text>
<text x="1892.5" y="1264.3" font-size="30.5">5</text>
<text x="1892.5" y="1172.7" font-size="30.5">15</text>
<text x="1892.5" y="1081.1" font-size="30.5">40</text>
<text x="1892.5" y="989.5" font-size="30.5">100</text>
<text x="1892.5" y="897.9" font-size="30.5">250</text>
<text x="1892.5" y="806.3" font-size="30.5">500</text>
<text transform="translate(1985.4,1039.3) rotate(-90)" font-size="30.6" text-anchor="middle">Precipitation (mm)</text>
</svg></body></html>
